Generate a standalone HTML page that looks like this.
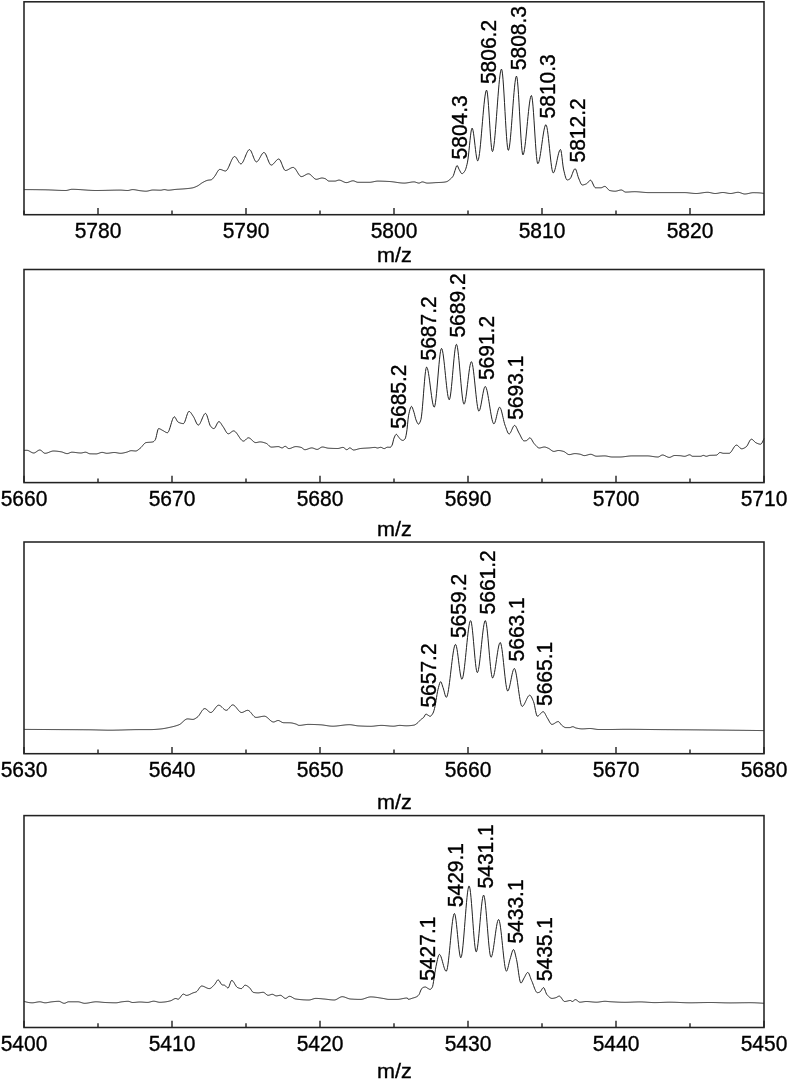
<!DOCTYPE html><html><head><meta charset="utf-8"><style>html,body{margin:0;padding:0;background:#fff;}svg{display:block;}text{font-family:"Liberation Sans",Arial,sans-serif;font-size:21px;fill:#000;stroke:#000;stroke-width:0.35px;}</style></head><body>
<svg width="788" height="1080" viewBox="0 0 788 1080">
<path d="M24.0 189.60 L24.5 189.60 L25.0 189.60 L25.5 189.60 L26.0 189.60 L26.5 189.60 L27.0 189.61 L27.5 189.61 L28.0 189.61 L28.5 189.61 L29.0 189.62 L29.5 189.62 L30.0 189.62 L30.5 189.62 L31.0 189.63 L31.5 189.63 L32.0 189.64 L32.5 189.64 L33.0 189.65 L33.5 189.65 L34.0 189.66 L34.5 189.66 L35.0 189.67 L35.5 189.67 L36.0 189.68 L36.5 189.68 L37.0 189.69 L37.5 189.70 L38.0 189.70 L38.5 189.71 L39.0 189.71 L39.5 189.72 L40.0 189.73 L40.5 189.74 L41.0 189.74 L41.5 189.75 L42.0 189.76 L42.5 189.76 L43.0 189.77 L43.5 189.78 L44.0 189.79 L44.5 189.79 L45.0 189.80 L45.5 189.81 L46.0 189.82 L46.5 189.83 L47.0 189.84 L47.5 189.86 L48.0 189.87 L48.5 189.89 L49.0 189.91 L49.5 189.93 L50.0 189.95 L50.5 189.97 L51.0 189.99 L51.5 190.01 L52.0 190.03 L52.5 190.05 L53.0 190.08 L53.5 190.10 L54.0 190.12 L54.5 190.15 L55.0 190.17 L55.5 190.20 L56.0 190.22 L56.5 190.24 L57.0 190.26 L57.5 190.29 L58.0 190.31 L58.5 190.33 L59.0 190.35 L59.5 190.37 L60.0 190.39 L60.5 190.40 L61.0 190.42 L61.5 190.44 L62.0 190.45 L62.5 190.46 L63.0 190.47 L63.5 190.48 L64.0 190.49 L64.5 190.49 L65.0 190.50 L65.5 190.50 L66.0 190.49 L66.5 190.45 L67.0 190.37 L67.5 190.26 L68.0 190.14 L68.5 190.00 L69.0 189.86 L69.5 189.72 L70.0 189.59 L70.5 189.47 L71.0 189.38 L71.5 189.32 L72.0 189.30 L72.5 189.30 L73.0 189.31 L73.5 189.31 L74.0 189.32 L74.5 189.34 L75.0 189.35 L75.5 189.37 L76.0 189.39 L76.5 189.41 L77.0 189.43 L77.5 189.46 L78.0 189.49 L78.5 189.52 L79.0 189.55 L79.5 189.58 L80.0 189.61 L80.5 189.64 L81.0 189.68 L81.5 189.72 L82.0 189.75 L82.5 189.79 L83.0 189.83 L83.5 189.86 L84.0 189.90 L84.5 189.94 L85.0 189.97 L85.5 190.01 L86.0 190.05 L86.5 190.08 L87.0 190.12 L87.5 190.16 L88.0 190.19 L88.5 190.22 L89.0 190.25 L89.5 190.28 L90.0 190.31 L90.5 190.34 L91.0 190.37 L91.5 190.39 L92.0 190.41 L92.5 190.43 L93.0 190.45 L93.5 190.46 L94.0 190.48 L94.5 190.49 L95.0 190.49 L95.5 190.50 L96.0 190.50 L96.5 190.50 L97.0 190.50 L97.5 190.50 L98.0 190.49 L98.5 190.49 L99.0 190.48 L99.5 190.48 L100.0 190.47 L100.5 190.46 L101.0 190.46 L101.5 190.45 L102.0 190.44 L102.5 190.43 L103.0 190.42 L103.5 190.41 L104.0 190.40 L104.5 190.39 L105.0 190.37 L105.5 190.36 L106.0 190.35 L106.5 190.34 L107.0 190.32 L107.5 190.31 L108.0 190.30 L108.5 190.29 L109.0 190.28 L109.5 190.26 L110.0 190.25 L110.5 190.24 L111.0 190.23 L111.5 190.21 L112.0 190.20 L112.5 190.19 L113.0 190.18 L113.5 190.17 L114.0 190.16 L114.5 190.15 L115.0 190.14 L115.5 190.14 L116.0 190.13 L116.5 190.12 L117.0 190.12 L117.5 190.11 L118.0 190.11 L118.5 190.10 L119.0 190.10 L119.5 190.10 L120.0 190.10 L120.5 190.10 L121.0 190.12 L121.5 190.14 L122.0 190.17 L122.5 190.20 L123.0 190.24 L123.5 190.28 L124.0 190.32 L124.5 190.35 L125.0 190.39 L125.5 190.43 L126.0 190.45 L126.5 190.48 L127.0 190.49 L127.5 190.50 L128.0 190.48 L128.5 190.43 L129.0 190.33 L129.5 190.22 L130.0 190.09 L130.5 189.96 L131.0 189.83 L131.5 189.73 L132.0 189.65 L132.5 189.60 L133.0 189.60 L133.5 189.63 L134.0 189.67 L134.5 189.72 L135.0 189.79 L135.5 189.87 L136.0 189.95 L136.5 190.05 L137.0 190.14 L137.5 190.24 L138.0 190.34 L138.5 190.43 L139.0 190.52 L139.5 190.60 L140.0 190.67 L140.5 190.72 L141.0 190.78 L141.5 190.84 L142.0 190.90 L142.5 190.96 L143.0 191.01 L143.5 191.06 L144.0 191.11 L144.5 191.15 L145.0 191.17 L145.5 191.19 L146.0 191.20 L146.5 191.18 L147.0 191.13 L147.5 191.06 L148.0 190.96 L148.5 190.85 L149.0 190.73 L149.5 190.60 L150.0 190.47 L150.5 190.35 L151.0 190.24 L151.5 190.14 L152.0 190.07 L152.5 190.02 L153.0 190.00 L153.5 190.00 L154.0 190.01 L154.5 190.02 L155.0 190.03 L155.5 190.05 L156.0 190.07 L156.5 190.09 L157.0 190.11 L157.5 190.13 L158.0 190.15 L158.5 190.16 L159.0 190.18 L159.5 190.19 L160.0 190.20 L160.5 190.20 L161.0 190.18 L161.5 190.11 L162.0 190.02 L162.5 189.90 L163.0 189.78 L163.5 189.69 L164.0 189.62 L164.5 189.60 L165.0 189.64 L165.5 189.72 L166.0 189.83 L166.5 189.95 L167.0 190.06 L167.5 190.15 L168.0 190.20 L168.5 190.20 L169.0 190.18 L169.5 190.15 L170.0 190.11 L170.5 190.06 L171.0 190.01 L171.5 189.94 L172.0 189.88 L172.5 189.81 L173.0 189.74 L173.5 189.67 L174.0 189.60 L174.5 189.53 L175.0 189.48 L175.5 189.43 L176.0 189.38 L176.5 189.35 L177.0 189.31 L177.5 189.28 L178.0 189.25 L178.5 189.22 L179.0 189.19 L179.5 189.16 L180.0 189.13 L180.5 189.10 L181.0 189.07 L181.5 189.04 L182.0 189.01 L182.5 188.98 L183.0 188.94 L183.5 188.90 L184.0 188.86 L184.5 188.82 L185.0 188.78 L185.5 188.73 L186.0 188.69 L186.5 188.65 L187.0 188.60 L187.5 188.55 L188.0 188.50 L188.5 188.45 L189.0 188.39 L189.5 188.33 L190.0 188.26 L190.5 188.19 L191.0 188.12 L191.5 188.04 L192.0 187.95 L192.5 187.86 L193.0 187.75 L193.5 187.61 L194.0 187.45 L194.5 187.27 L195.0 187.08 L195.5 186.87 L196.0 186.65 L196.5 186.42 L197.0 186.19 L197.5 185.95 L198.0 185.68 L198.5 185.37 L199.0 185.03 L199.5 184.67 L200.0 184.30 L200.5 183.93 L201.0 183.56 L201.5 183.21 L202.0 182.89 L202.5 182.60 L203.0 182.33 L203.5 182.06 L204.0 181.79 L204.5 181.53 L205.0 181.28 L205.5 181.04 L206.0 180.82 L206.5 180.63 L207.0 180.46 L207.5 180.32 L208.0 180.22 L208.5 180.14 L209.0 180.08 L209.5 180.02 L210.0 179.97 L210.5 179.90 L211.0 179.80 L211.5 179.67 L212.0 179.39 L212.5 178.94 L213.0 178.38 L213.5 177.75 L214.0 177.11 L214.5 176.50 L215.0 175.85 L215.5 175.08 L216.0 174.23 L216.5 173.34 L217.0 172.45 L217.5 171.60 L218.0 170.84 L218.5 170.19 L219.0 169.72 L219.5 169.45 L220.0 169.41 L220.5 169.47 L221.0 169.58 L221.5 169.74 L222.0 169.93 L222.5 170.14 L223.0 170.35 L223.5 170.55 L224.0 170.73 L224.5 170.87 L225.0 170.97 L225.5 171.00 L226.0 170.87 L226.5 170.51 L227.0 169.95 L227.5 169.21 L228.0 168.32 L228.5 167.31 L229.0 166.22 L229.5 165.06 L230.0 163.87 L230.5 162.68 L231.0 161.51 L231.5 160.40 L232.0 159.37 L232.5 158.46 L233.0 157.69 L233.5 157.08 L234.0 156.68 L234.5 156.51 L235.0 156.59 L235.5 156.91 L236.0 157.43 L236.5 158.11 L237.0 158.90 L237.5 159.76 L238.0 160.64 L238.5 161.50 L239.0 162.29 L239.5 162.97 L240.0 163.49 L240.5 163.81 L241.0 163.89 L241.5 163.70 L242.0 163.26 L242.5 162.60 L243.0 161.76 L243.5 160.77 L244.0 159.67 L244.5 158.48 L245.0 157.25 L245.5 156.00 L246.0 154.78 L246.5 153.61 L247.0 152.52 L247.5 151.56 L248.0 150.75 L248.5 150.14 L249.0 149.74 L249.5 149.60 L250.0 149.78 L250.5 150.30 L251.0 151.09 L251.5 152.10 L252.0 153.27 L252.5 154.55 L253.0 155.88 L253.5 157.21 L254.0 158.47 L254.5 159.62 L255.0 160.59 L255.5 161.33 L256.0 161.78 L256.5 161.90 L257.0 161.73 L257.5 161.37 L258.0 160.83 L258.5 160.14 L259.0 159.35 L259.5 158.48 L260.0 157.57 L260.5 156.64 L261.0 155.74 L261.5 154.88 L262.0 154.11 L262.5 153.45 L263.0 152.95 L263.5 152.62 L264.0 152.50 L264.5 152.67 L265.0 153.16 L265.5 153.91 L266.0 154.88 L266.5 156.00 L267.0 157.24 L267.5 158.54 L268.0 159.85 L268.5 161.11 L269.0 162.29 L269.5 163.32 L270.0 164.17 L270.5 164.77 L271.0 165.07 L271.5 165.07 L272.0 164.91 L272.5 164.63 L273.0 164.24 L273.5 163.76 L274.0 163.23 L274.5 162.65 L275.0 162.05 L275.5 161.45 L276.0 160.87 L276.5 160.34 L277.0 159.86 L277.5 159.47 L278.0 159.19 L278.5 159.03 L279.0 159.03 L279.5 159.36 L280.0 160.00 L280.5 160.90 L281.0 161.98 L281.5 163.20 L282.0 164.49 L282.5 165.79 L283.0 167.04 L283.5 168.19 L284.0 169.17 L284.5 169.92 L285.0 170.38 L285.5 170.50 L286.0 170.45 L286.5 170.33 L287.0 170.16 L287.5 169.95 L288.0 169.70 L288.5 169.42 L289.0 169.13 L289.5 168.83 L290.0 168.54 L290.5 168.26 L291.0 168.00 L291.5 167.78 L292.0 167.60 L292.5 167.47 L293.0 167.41 L293.5 167.44 L294.0 167.65 L294.5 168.02 L295.0 168.54 L295.5 169.17 L296.0 169.89 L296.5 170.67 L297.0 171.50 L297.5 172.34 L298.0 173.17 L298.5 173.96 L299.0 174.70 L299.5 175.35 L300.0 175.89 L300.5 176.29 L301.0 176.54 L301.5 176.60 L302.0 176.54 L302.5 176.42 L303.0 176.24 L303.5 176.01 L304.0 175.75 L304.5 175.46 L305.0 175.17 L305.5 174.88 L306.0 174.60 L306.5 174.34 L307.0 174.12 L307.5 173.95 L308.0 173.84 L308.5 173.80 L309.0 173.86 L309.5 174.05 L310.0 174.33 L310.5 174.70 L311.0 175.13 L311.5 175.61 L312.0 176.13 L312.5 176.66 L313.0 177.18 L313.5 177.68 L314.0 178.15 L314.5 178.56 L315.0 178.89 L315.5 179.14 L316.0 179.28 L316.5 179.30 L317.0 179.25 L317.5 179.15 L318.0 179.02 L318.5 178.87 L319.0 178.70 L319.5 178.53 L320.0 178.37 L320.5 178.22 L321.0 178.11 L321.5 178.03 L322.0 178.00 L322.5 178.02 L323.0 178.09 L323.5 178.19 L324.0 178.31 L324.5 178.45 L325.0 178.60 L325.5 178.82 L326.0 179.16 L326.5 179.56 L327.0 180.00 L327.5 180.41 L328.0 180.76 L328.5 181.01 L329.0 181.10 L329.5 181.10 L330.0 181.10 L330.5 181.10 L331.0 181.10 L331.5 181.10 L332.0 181.10 L332.5 181.10 L333.0 181.10 L333.5 181.10 L334.0 181.10 L334.5 181.10 L335.0 181.10 L335.5 181.04 L336.0 180.92 L336.5 180.76 L337.0 180.58 L337.5 180.40 L338.0 180.25 L338.5 180.14 L339.0 180.10 L339.5 180.13 L340.0 180.22 L340.5 180.37 L341.0 180.55 L341.5 180.76 L342.0 181.00 L342.5 181.25 L343.0 181.50 L343.5 181.75 L344.0 181.98 L344.5 182.19 L345.0 182.37 L345.5 182.50 L346.0 182.58 L346.5 182.60 L347.0 182.56 L347.5 182.47 L348.0 182.33 L348.5 182.17 L349.0 181.98 L349.5 181.78 L350.0 181.58 L350.5 181.38 L351.0 181.20 L351.5 181.04 L352.0 180.91 L352.5 180.83 L353.0 180.80 L353.5 180.84 L354.0 180.96 L354.5 181.12 L355.0 181.33 L355.5 181.55 L356.0 181.77 L356.5 181.98 L357.0 182.14 L357.5 182.26 L358.0 182.30 L358.5 182.30 L359.0 182.30 L359.5 182.30 L360.0 182.30 L360.5 182.30 L361.0 182.30 L361.5 182.30 L362.0 182.30 L362.5 182.30 L363.0 182.30 L363.5 182.30 L364.0 182.30 L364.5 182.30 L365.0 182.30 L365.5 182.30 L366.0 182.30 L366.5 182.30 L367.0 182.30 L367.5 182.30 L368.0 182.30 L368.5 182.30 L369.0 182.30 L369.5 182.30 L370.0 182.29 L370.5 182.25 L371.0 182.20 L371.5 182.12 L372.0 182.04 L372.5 181.94 L373.0 181.84 L373.5 181.73 L374.0 181.62 L374.5 181.52 L375.0 181.42 L375.5 181.33 L376.0 181.24 L376.5 181.18 L377.0 181.13 L377.5 181.10 L378.0 181.10 L378.5 181.10 L379.0 181.11 L379.5 181.11 L380.0 181.12 L380.5 181.13 L381.0 181.14 L381.5 181.16 L382.0 181.17 L382.5 181.19 L383.0 181.21 L383.5 181.22 L384.0 181.24 L384.5 181.27 L385.0 181.29 L385.5 181.31 L386.0 181.33 L386.5 181.36 L387.0 181.38 L387.5 181.41 L388.0 181.43 L388.5 181.46 L389.0 181.48 L389.5 181.51 L390.0 181.54 L390.5 181.58 L391.0 181.63 L391.5 181.68 L392.0 181.73 L392.5 181.79 L393.0 181.85 L393.5 181.92 L394.0 181.99 L394.5 182.06 L395.0 182.14 L395.5 182.21 L396.0 182.28 L396.5 182.36 L397.0 182.43 L397.5 182.51 L398.0 182.58 L398.5 182.65 L399.0 182.71 L399.5 182.78 L400.0 182.83 L400.5 182.89 L401.0 182.94 L401.5 182.98 L402.0 183.02 L402.5 183.05 L403.0 183.08 L403.5 183.09 L404.0 183.10 L404.5 183.10 L405.0 183.08 L405.5 183.04 L406.0 182.99 L406.5 182.93 L407.0 182.86 L407.5 182.78 L408.0 182.70 L408.5 182.61 L409.0 182.52 L409.5 182.43 L410.0 182.34 L410.5 182.25 L411.0 182.17 L411.5 182.09 L412.0 182.03 L412.5 181.98 L413.0 181.93 L413.5 181.91 L414.0 181.90 L414.5 181.93 L415.0 182.02 L415.5 182.16 L416.0 182.32 L416.5 182.50 L417.0 182.68 L417.5 182.84 L418.0 182.98 L418.5 183.07 L419.0 183.10 L419.5 183.03 L420.0 182.84 L420.5 182.58 L421.0 182.31 L421.5 182.08 L422.0 181.93 L422.5 181.91 L423.0 181.96 L423.5 182.07 L424.0 182.22 L424.5 182.39 L425.0 182.57 L425.5 182.75 L426.0 182.90 L426.5 183.02 L427.0 183.09 L427.5 183.10 L428.0 183.09 L428.5 183.08 L429.0 183.07 L429.5 183.05 L430.0 183.02 L430.5 182.99 L431.0 182.96 L431.5 182.93 L432.0 182.89 L432.5 182.86 L433.0 182.82 L433.5 182.78 L434.0 182.75 L434.5 182.71 L435.0 182.68 L435.5 182.64 L436.0 182.62 L436.5 182.59 L437.0 182.57 L437.5 182.55 L438.0 182.53 L438.5 182.51 L439.0 182.49 L439.5 182.47 L440.0 182.45 L440.5 182.43 L441.0 182.40 L441.5 182.38 L442.0 182.35 L442.5 182.31 L443.0 182.28 L443.5 182.23 L444.0 182.17 L444.5 182.10 L445.0 182.02 L445.5 181.93 L446.0 181.82 L446.5 181.70 L447.0 181.53 L447.5 181.28 L448.0 180.97 L448.5 180.61 L449.0 180.21 L449.5 179.79 L450.0 179.36 L450.5 178.93 L451.0 178.50 L451.5 178.04 L452.0 177.53 L452.5 176.93 L453.0 176.22 L453.5 175.27 L454.0 173.80 L454.5 172.09 L455.0 170.48 L455.5 168.99 L456.0 167.36 L456.5 166.04 L457.0 165.50 L457.5 165.89 L458.0 166.86 L458.5 168.08 L459.0 169.23 L459.5 170.13 L460.0 171.09 L460.5 172.05 L461.0 172.88 L461.5 173.48 L462.0 173.70 L462.5 173.59 L463.0 173.27 L463.5 172.80 L464.0 172.19 L464.5 171.50 L465.0 170.74 L465.5 169.65 L466.0 168.16 L466.5 166.36 L467.0 164.33 L467.5 162.13 L468.0 159.05 L468.5 154.97 L469.0 150.26 L469.5 145.26 L470.0 140.32 L470.5 135.79 L471.0 132.02 L471.5 129.35 L472.0 128.14 L472.5 128.58 L473.0 130.37 L473.5 133.22 L474.0 136.87 L474.5 141.01 L475.0 145.38 L475.5 149.69 L476.0 153.67 L476.5 157.03 L477.0 159.49 L477.5 160.78 L478.0 160.66 L478.5 159.29 L479.0 156.81 L479.5 153.38 L480.0 149.16 L480.5 144.29 L481.0 138.92 L481.5 133.20 L482.0 127.29 L482.5 121.33 L483.0 115.48 L483.5 109.89 L484.0 104.70 L484.5 100.07 L485.0 96.14 L485.5 93.08 L486.0 91.02 L486.5 90.13 L487.0 90.94 L487.5 94.08 L488.0 99.12 L488.5 105.58 L489.0 112.98 L489.5 120.85 L490.0 128.72 L490.5 136.12 L491.0 142.58 L491.5 147.62 L492.0 150.76 L492.5 151.57 L493.0 150.57 L493.5 148.28 L494.0 144.85 L494.5 140.45 L495.0 135.24 L495.5 129.40 L496.0 123.08 L496.5 116.45 L497.0 109.67 L497.5 102.91 L498.0 96.32 L498.5 90.09 L499.0 84.36 L499.5 79.30 L500.0 75.09 L500.5 71.87 L501.0 69.82 L501.5 69.10 L502.0 70.35 L502.5 73.86 L503.0 79.22 L503.5 86.06 L504.0 93.99 L504.5 102.61 L505.0 111.54 L505.5 120.40 L506.0 128.79 L506.5 136.33 L507.0 142.62 L507.5 147.29 L508.0 149.94 L508.5 150.27 L509.0 148.87 L509.5 146.09 L510.0 142.14 L510.5 137.23 L511.0 131.54 L511.5 125.29 L512.0 118.67 L512.5 111.89 L513.0 105.15 L513.5 98.66 L514.0 92.61 L514.5 87.20 L515.0 82.65 L515.5 79.15 L516.0 76.90 L516.5 76.10 L517.0 77.47 L517.5 81.27 L518.0 87.06 L518.5 94.38 L519.0 102.78 L519.5 111.81 L520.0 121.02 L520.5 129.97 L521.0 138.19 L521.5 145.24 L522.0 150.66 L522.5 154.02 L523.0 154.88 L523.5 154.05 L524.0 152.17 L524.5 149.38 L525.0 145.81 L525.5 141.63 L526.0 136.96 L526.5 131.96 L527.0 126.77 L527.5 121.54 L528.0 116.41 L528.5 111.52 L529.0 107.03 L529.5 103.08 L530.0 99.80 L530.5 97.36 L531.0 95.88 L531.5 95.55 L532.0 97.19 L532.5 100.86 L533.0 106.17 L533.5 112.73 L534.0 120.16 L534.5 128.05 L535.0 136.02 L535.5 143.68 L536.0 150.63 L536.5 156.49 L537.0 160.87 L537.5 163.36 L538.0 163.73 L538.5 162.97 L539.0 161.48 L539.5 159.36 L540.0 156.71 L540.5 153.66 L541.0 150.31 L541.5 146.78 L542.0 143.16 L542.5 139.58 L543.0 136.15 L543.5 132.96 L544.0 130.14 L544.5 127.80 L545.0 126.04 L545.5 124.98 L546.0 124.73 L546.5 125.62 L547.0 127.65 L547.5 130.63 L548.0 134.37 L548.5 138.69 L549.0 143.39 L549.5 148.30 L550.0 153.23 L550.5 158.00 L551.0 162.41 L551.5 166.28 L552.0 169.42 L552.5 171.66 L553.0 172.79 L553.5 172.78 L554.0 172.12 L554.5 170.94 L555.0 169.33 L555.5 167.40 L556.0 165.21 L556.5 162.88 L557.0 160.48 L557.5 158.11 L558.0 155.85 L558.5 153.81 L559.0 152.06 L559.5 150.70 L560.0 149.81 L560.5 149.50 L561.0 150.61 L561.5 153.50 L562.0 157.47 L562.5 161.84 L563.0 165.93 L563.5 169.05 L564.0 171.17 L564.5 173.27 L565.0 175.28 L565.5 177.06 L566.0 178.52 L566.5 179.53 L567.0 179.99 L567.5 179.97 L568.0 179.86 L568.5 179.67 L569.0 179.44 L569.5 179.17 L570.0 178.85 L570.5 178.20 L571.0 177.24 L571.5 176.05 L572.0 174.71 L572.5 173.33 L573.0 171.98 L573.5 170.75 L574.0 169.74 L574.5 169.03 L575.0 168.71 L575.5 168.95 L576.0 169.84 L576.5 171.22 L577.0 172.90 L577.5 174.70 L578.0 176.44 L578.5 177.92 L579.0 179.09 L579.5 180.33 L580.0 181.59 L580.5 182.78 L581.0 183.80 L581.5 184.56 L582.0 184.96 L582.5 184.99 L583.0 184.94 L583.5 184.85 L584.0 184.72 L584.5 184.56 L585.0 184.38 L585.5 184.18 L586.0 183.97 L586.5 183.74 L587.0 183.45 L587.5 182.99 L588.0 182.41 L588.5 181.79 L589.0 181.20 L589.5 180.69 L590.0 180.33 L590.5 180.20 L591.0 180.41 L591.5 180.99 L592.0 181.84 L592.5 182.88 L593.0 184.00 L593.5 185.12 L594.0 186.16 L594.5 187.01 L595.0 187.59 L595.5 187.80 L596.0 187.80 L596.5 187.80 L597.0 187.80 L597.5 187.80 L598.0 187.80 L598.5 187.80 L599.0 187.80 L599.5 187.80 L600.0 187.80 L600.5 187.80 L601.0 187.80 L601.5 187.71 L602.0 187.53 L602.5 187.29 L603.0 187.02 L603.5 186.76 L604.0 186.55 L604.5 186.42 L605.0 186.42 L605.5 186.61 L606.0 186.97 L606.5 187.45 L607.0 188.01 L607.5 188.61 L608.0 189.20 L608.5 189.73 L609.0 190.16 L609.5 190.44 L610.0 190.57 L610.5 190.67 L611.0 190.77 L611.5 190.86 L612.0 190.94 L612.5 191.02 L613.0 191.08 L613.5 191.13 L614.0 191.17 L614.5 191.19 L615.0 191.20 L615.5 191.19 L616.0 191.13 L616.5 191.04 L617.0 190.93 L617.5 190.80 L618.0 190.66 L618.5 190.51 L619.0 190.37 L619.5 190.24 L620.0 190.14 L620.5 190.05 L621.0 190.01 L621.5 190.01 L622.0 190.14 L622.5 190.38 L623.0 190.70 L623.5 191.05 L624.0 191.40 L624.5 191.72 L625.0 191.96 L625.5 192.09 L626.0 192.10 L626.5 192.09 L627.0 192.08 L627.5 192.06 L628.0 192.03 L628.5 192.01 L629.0 191.98 L629.5 191.94 L630.0 191.91 L630.5 191.88 L631.0 191.84 L631.5 191.81 L632.0 191.78 L632.5 191.76 L633.0 191.73 L633.5 191.72 L634.0 191.71 L634.5 191.70 L635.0 191.70 L635.5 191.71 L636.0 191.72 L636.5 191.74 L637.0 191.77 L637.5 191.80 L638.0 191.83 L638.5 191.87 L639.0 191.91 L639.5 191.95 L640.0 191.99 L640.5 192.04 L641.0 192.08 L641.5 192.13 L642.0 192.18 L642.5 192.23 L643.0 192.27 L643.5 192.32 L644.0 192.36 L644.5 192.40 L645.0 192.44 L645.5 192.48 L646.0 192.51 L646.5 192.54 L647.0 192.56 L647.5 192.58 L648.0 192.59 L648.5 192.60 L649.0 192.60 L649.5 192.60 L650.0 192.60 L650.5 192.60 L651.0 192.60 L651.5 192.60 L652.0 192.60 L652.5 192.60 L653.0 192.60 L653.5 192.60 L654.0 192.60 L654.5 192.60 L655.0 192.60 L655.5 192.60 L656.0 192.60 L656.5 192.60 L657.0 192.60 L657.5 192.60 L658.0 192.60 L658.5 192.60 L659.0 192.60 L659.5 192.60 L660.0 192.60 L660.5 192.60 L661.0 192.60 L661.5 192.60 L662.0 192.60 L662.5 192.60 L663.0 192.60 L663.5 192.60 L664.0 192.60 L664.5 192.60 L665.0 192.60 L665.5 192.60 L666.0 192.60 L666.5 192.60 L667.0 192.60 L667.5 192.60 L668.0 192.60 L668.5 192.60 L669.0 192.60 L669.5 192.60 L670.0 192.60 L670.5 192.60 L671.0 192.60 L671.5 192.60 L672.0 192.60 L672.5 192.60 L673.0 192.60 L673.5 192.60 L674.0 192.60 L674.5 192.60 L675.0 192.60 L675.5 192.60 L676.0 192.60 L676.5 192.60 L677.0 192.60 L677.5 192.60 L678.0 192.60 L678.5 192.60 L679.0 192.60 L679.5 192.60 L680.0 192.60 L680.5 192.60 L681.0 192.60 L681.5 192.60 L682.0 192.60 L682.5 192.60 L683.0 192.60 L683.5 192.60 L684.0 192.60 L684.5 192.60 L685.0 192.61 L685.5 192.63 L686.0 192.65 L686.5 192.68 L687.0 192.72 L687.5 192.76 L688.0 192.81 L688.5 192.86 L689.0 192.91 L689.5 192.97 L690.0 193.02 L690.5 193.08 L691.0 193.13 L691.5 193.19 L692.0 193.24 L692.5 193.29 L693.0 193.34 L693.5 193.38 L694.0 193.42 L694.5 193.45 L695.0 193.47 L695.5 193.49 L696.0 193.50 L696.5 193.50 L697.0 193.48 L697.5 193.46 L698.0 193.42 L698.5 193.37 L699.0 193.32 L699.5 193.26 L700.0 193.19 L700.5 193.12 L701.0 193.04 L701.5 192.96 L702.0 192.88 L702.5 192.81 L703.0 192.73 L703.5 192.65 L704.0 192.58 L704.5 192.52 L705.0 192.46 L705.5 192.41 L706.0 192.36 L706.5 192.33 L707.0 192.31 L707.5 192.30 L708.0 192.31 L708.5 192.35 L709.0 192.41 L709.5 192.49 L710.0 192.58 L710.5 192.69 L711.0 192.81 L711.5 192.92 L712.0 193.04 L712.5 193.15 L713.0 193.26 L713.5 193.35 L714.0 193.42 L714.5 193.47 L715.0 193.50 L715.5 193.50 L716.0 193.47 L716.5 193.42 L717.0 193.36 L717.5 193.29 L718.0 193.20 L718.5 193.11 L719.0 193.01 L719.5 192.91 L720.0 192.82 L720.5 192.73 L721.0 192.65 L721.5 192.59 L722.0 192.54 L722.5 192.51 L723.0 192.50 L723.5 192.52 L724.0 192.56 L724.5 192.61 L725.0 192.69 L725.5 192.77 L726.0 192.86 L726.5 192.96 L727.0 193.06 L727.5 193.16 L728.0 193.25 L728.5 193.33 L729.0 193.40 L729.5 193.45 L730.0 193.49 L730.5 193.50 L731.0 193.49 L731.5 193.44 L732.0 193.38 L732.5 193.29 L733.0 193.20 L733.5 193.09 L734.0 192.97 L734.5 192.85 L735.0 192.74 L735.5 192.63 L736.0 192.52 L736.5 192.44 L737.0 192.37 L737.5 192.32 L738.0 192.30 L738.5 192.32 L739.0 192.38 L739.5 192.49 L740.0 192.63 L740.5 192.80 L741.0 192.98 L741.5 193.17 L742.0 193.36 L742.5 193.54 L743.0 193.70 L743.5 193.83 L744.0 193.93 L744.5 193.99 L745.0 194.00 L745.5 193.98 L746.0 193.93 L746.5 193.86 L747.0 193.78 L747.5 193.69 L748.0 193.59 L748.5 193.48 L749.0 193.36 L749.5 193.25 L750.0 193.14 L750.5 193.03 L751.0 192.93 L751.5 192.85 L752.0 192.78 L752.5 192.73 L753.0 192.70 L753.5 192.70 L754.0 192.70 L754.5 192.70 L755.0 192.71 L755.5 192.72 L756.0 192.72 L756.5 192.74 L757.0 192.75 L757.5 192.77 L758.0 192.79 L758.5 192.82 L759.0 192.85 L759.5 192.89 L760.0 192.93 L760.5 192.98 L761.0 193.03 L761.5 193.09 L762.0 193.16 L762.5 193.23 L763.0 193.31 L763.5 193.40 L764.0 193.50" fill="none" stroke="#222" stroke-width="1.0" stroke-linejoin="round"/>
<path d="M24.0 214.7 V210.5 M98.0 214.7 V207.9 M172.0 214.7 V210.5 M246.0 214.7 V207.9 M320.0 214.7 V210.5 M394.0 214.7 V207.9 M468.0 214.7 V210.5 M542.0 214.7 V207.9 M616.0 214.7 V210.5 M690.0 214.7 V207.9 M764.0 214.7 V210.5" stroke="#222" stroke-width="1.4" fill="none"/>
<rect x="24.0" y="1.8" width="740.0" height="212.9" fill="none" stroke="#222" stroke-width="1.55"/>
<text transform="translate(98.0 238.2) scale(1 1.050)" text-anchor="middle">5780</text>
<text transform="translate(246.0 238.2) scale(1 1.050)" text-anchor="middle">5790</text>
<text transform="translate(394.0 238.2) scale(1 1.050)" text-anchor="middle">5800</text>
<text transform="translate(542.0 238.2) scale(1 1.050)" text-anchor="middle">5810</text>
<text transform="translate(690.0 238.2) scale(1 1.050)" text-anchor="middle">5820</text>
<text transform="translate(394.4 262.0) scale(1.03 1)" text-anchor="middle">m/z</text>
<text transform="translate(466.9 159.4) rotate(-90) scale(1 1.050)">5804.3</text>
<text transform="translate(496.2 84.1) rotate(-90) scale(1 1.050)">5806.2</text>
<text transform="translate(525.7 70.2) rotate(-90) scale(1 1.050)">5808.3</text>
<text transform="translate(554.9 118.4) rotate(-90) scale(1 1.050)">5810.3</text>
<text transform="translate(584.8 162.5) rotate(-90) scale(1 1.050)">5812.2</text>
<path d="M24.0 450.50 L24.5 450.41 L25.0 450.36 L25.5 450.32 L26.0 450.31 L26.5 450.30 L27.0 450.30 L27.5 450.36 L28.0 450.49 L28.5 450.68 L29.0 450.91 L29.5 451.18 L30.0 451.47 L30.5 451.77 L31.0 452.06 L31.5 452.34 L32.0 452.58 L32.5 452.78 L33.0 452.92 L33.5 452.99 L34.0 452.98 L34.5 452.86 L35.0 452.65 L35.5 452.37 L36.0 452.04 L36.5 451.68 L37.0 451.32 L37.5 450.96 L38.0 450.63 L38.5 450.35 L39.0 450.14 L39.5 450.02 L40.0 450.01 L40.5 450.16 L41.0 450.43 L41.5 450.80 L42.0 451.23 L42.5 451.70 L43.0 452.16 L43.5 452.58 L44.0 452.93 L44.5 453.18 L45.0 453.30 L45.5 453.28 L46.0 453.23 L46.5 453.13 L47.0 453.00 L47.5 452.84 L48.0 452.67 L48.5 452.47 L49.0 452.27 L49.5 452.07 L50.0 451.87 L50.5 451.67 L51.0 451.49 L51.5 451.33 L52.0 451.19 L52.5 451.09 L53.0 451.02 L53.5 451.00 L54.0 451.01 L54.5 451.02 L55.0 451.04 L55.5 451.08 L56.0 451.12 L56.5 451.16 L57.0 451.22 L57.5 451.27 L58.0 451.34 L58.5 451.41 L59.0 451.48 L59.5 451.55 L60.0 451.63 L60.5 451.71 L61.0 451.78 L61.5 451.88 L62.0 452.01 L62.5 452.17 L63.0 452.36 L63.5 452.56 L64.0 452.76 L64.5 452.96 L65.0 453.15 L65.5 453.31 L66.0 453.45 L66.5 453.55 L67.0 453.60 L67.5 453.58 L68.0 453.49 L68.5 453.33 L69.0 453.12 L69.5 452.90 L70.0 452.68 L70.5 452.47 L71.0 452.31 L71.5 452.22 L72.0 452.20 L72.5 452.21 L73.0 452.24 L73.5 452.27 L74.0 452.32 L74.5 452.37 L75.0 452.43 L75.5 452.49 L76.0 452.55 L76.5 452.62 L77.0 452.69 L77.5 452.75 L78.0 452.81 L78.5 452.86 L79.0 452.91 L79.5 452.95 L80.0 452.98 L80.5 453.00 L81.0 453.00 L81.5 452.96 L82.0 452.88 L82.5 452.78 L83.0 452.65 L83.5 452.52 L84.0 452.40 L84.5 452.30 L85.0 452.23 L85.5 452.20 L86.0 452.25 L86.5 452.40 L87.0 452.60 L87.5 452.85 L88.0 453.11 L88.5 453.36 L89.0 453.58 L89.5 453.73 L90.0 453.80 L90.5 453.82 L91.0 453.83 L91.5 453.84 L92.0 453.85 L92.5 453.87 L93.0 453.87 L93.5 453.88 L94.0 453.89 L94.5 453.89 L95.0 453.90 L95.5 453.90 L96.0 453.90 L96.5 453.88 L97.0 453.81 L97.5 453.70 L98.0 453.55 L98.5 453.39 L99.0 453.21 L99.5 453.02 L100.0 452.84 L100.5 452.68 L101.0 452.55 L101.5 452.45 L102.0 452.40 L102.5 452.41 L103.0 452.47 L103.5 452.58 L104.0 452.71 L104.5 452.85 L105.0 452.99 L105.5 453.12 L106.0 453.23 L106.5 453.29 L107.0 453.30 L107.5 453.28 L108.0 453.25 L108.5 453.20 L109.0 453.14 L109.5 453.07 L110.0 452.99 L110.5 452.92 L111.0 452.84 L111.5 452.76 L112.0 452.69 L112.5 452.62 L113.0 452.57 L113.5 452.53 L114.0 452.51 L114.5 452.50 L115.0 452.52 L115.5 452.57 L116.0 452.64 L116.5 452.72 L117.0 452.81 L117.5 452.91 L118.0 453.01 L118.5 453.10 L119.0 453.18 L119.5 453.24 L120.0 453.28 L120.5 453.30 L121.0 453.29 L121.5 453.25 L122.0 453.20 L122.5 453.13 L123.0 453.04 L123.5 452.94 L124.0 452.83 L124.5 452.71 L125.0 452.59 L125.5 452.47 L126.0 452.34 L126.5 452.22 L127.0 452.09 L127.5 451.91 L128.0 451.71 L128.5 451.49 L129.0 451.27 L129.5 451.07 L130.0 450.90 L130.5 450.77 L131.0 450.71 L131.5 450.70 L132.0 450.73 L132.5 450.76 L133.0 450.81 L133.5 450.85 L134.0 450.90 L134.5 450.95 L135.0 450.98 L135.5 451.00 L136.0 450.98 L136.5 450.85 L137.0 450.63 L137.5 450.33 L138.0 449.98 L138.5 449.59 L139.0 449.19 L139.5 448.78 L140.0 448.40 L140.5 447.99 L141.0 447.50 L141.5 446.95 L142.0 446.36 L142.5 445.75 L143.0 445.15 L143.5 444.56 L144.0 444.01 L144.5 443.53 L145.0 443.12 L145.5 442.81 L146.0 442.62 L146.5 442.53 L147.0 442.46 L147.5 442.41 L148.0 442.36 L148.5 442.33 L149.0 442.30 L149.5 442.27 L150.0 442.24 L150.5 442.21 L151.0 442.17 L151.5 442.12 L152.0 442.06 L152.5 441.98 L153.0 441.88 L153.5 441.65 L154.0 441.27 L154.5 440.76 L155.0 440.16 L155.5 439.32 L156.0 437.70 L156.5 435.55 L157.0 433.22 L157.5 431.06 L158.0 429.42 L158.5 428.62 L159.0 428.63 L159.5 428.75 L160.0 428.95 L160.5 429.20 L161.0 429.48 L161.5 429.78 L162.0 430.08 L162.5 430.35 L163.0 430.60 L163.5 430.87 L164.0 431.18 L164.5 431.49 L165.0 431.81 L165.5 432.10 L166.0 432.35 L166.5 432.55 L167.0 432.67 L167.5 432.69 L168.0 432.36 L168.5 431.62 L169.0 430.53 L169.5 429.18 L170.0 427.63 L170.5 425.96 L171.0 424.23 L171.5 422.53 L172.0 420.92 L172.5 419.48 L173.0 418.28 L173.5 417.39 L174.0 416.89 L174.5 416.84 L175.0 417.22 L175.5 417.93 L176.0 418.83 L176.5 419.81 L177.0 420.75 L177.5 421.54 L178.0 422.04 L178.5 422.29 L179.0 422.52 L179.5 422.73 L180.0 422.92 L180.5 423.10 L181.0 423.25 L181.5 423.37 L182.0 423.47 L182.5 423.55 L183.0 423.59 L183.5 423.59 L184.0 423.21 L184.5 422.37 L185.0 421.18 L185.5 419.74 L186.0 418.15 L186.5 416.52 L187.0 414.96 L187.5 413.56 L188.0 412.43 L188.5 411.67 L189.0 411.40 L189.5 411.52 L190.0 411.84 L190.5 412.33 L191.0 412.95 L191.5 413.66 L192.0 414.43 L192.5 415.21 L193.0 415.97 L193.5 416.70 L194.0 417.58 L194.5 418.62 L195.0 419.76 L195.5 420.93 L196.0 422.06 L196.5 423.10 L197.0 423.99 L197.5 424.65 L198.0 425.03 L198.5 425.07 L199.0 424.79 L199.5 424.23 L200.0 423.45 L200.5 422.49 L201.0 421.40 L201.5 420.22 L202.0 419.01 L202.5 417.80 L203.0 416.65 L203.5 415.61 L204.0 414.71 L204.5 414.01 L205.0 413.56 L205.5 413.40 L206.0 413.69 L206.5 414.48 L207.0 415.68 L207.5 417.16 L208.0 418.83 L208.5 420.58 L209.0 422.30 L209.5 423.89 L210.0 425.23 L210.5 426.22 L211.0 426.79 L211.5 427.27 L212.0 427.71 L212.5 428.08 L213.0 428.37 L213.5 428.55 L214.0 428.59 L214.5 428.32 L215.0 427.73 L215.5 426.91 L216.0 425.93 L216.5 424.89 L217.0 423.86 L217.5 422.94 L218.0 422.20 L218.5 421.73 L219.0 421.61 L219.5 421.79 L220.0 422.21 L220.5 422.80 L221.0 423.52 L221.5 424.31 L222.0 425.12 L222.5 425.90 L223.0 426.60 L223.5 427.31 L224.0 428.12 L224.5 428.99 L225.0 429.90 L225.5 430.79 L226.0 431.63 L226.5 432.39 L227.0 433.02 L227.5 433.49 L228.0 433.75 L228.5 433.79 L229.0 433.66 L229.5 433.42 L230.0 433.10 L230.5 432.72 L231.0 432.31 L231.5 431.91 L232.0 431.53 L232.5 431.22 L233.0 431.00 L233.5 430.90 L234.0 430.95 L234.5 431.14 L235.0 431.45 L235.5 431.88 L236.0 432.41 L236.5 433.01 L237.0 433.68 L237.5 434.40 L238.0 435.15 L238.5 435.92 L239.0 436.69 L239.5 437.45 L240.0 438.18 L240.5 438.86 L241.0 439.48 L241.5 440.02 L242.0 440.47 L242.5 440.81 L243.0 441.02 L243.5 441.10 L244.0 441.00 L244.5 440.74 L245.0 440.36 L245.5 439.90 L246.0 439.40 L246.5 438.90 L247.0 438.45 L247.5 438.09 L248.0 437.86 L248.5 437.80 L249.0 437.89 L249.5 438.09 L250.0 438.39 L250.5 438.76 L251.0 439.19 L251.5 439.66 L252.0 440.15 L252.5 440.64 L253.0 441.12 L253.5 441.55 L254.0 441.94 L254.5 442.25 L255.0 442.48 L255.5 442.59 L256.0 442.59 L256.5 442.54 L257.0 442.45 L257.5 442.33 L258.0 442.21 L258.5 442.10 L259.0 442.00 L259.5 441.93 L260.0 441.90 L260.5 441.91 L261.0 441.95 L261.5 442.01 L262.0 442.10 L262.5 442.20 L263.0 442.32 L263.5 442.45 L264.0 442.60 L264.5 442.76 L265.0 442.92 L265.5 443.09 L266.0 443.26 L266.5 443.48 L267.0 443.81 L267.5 444.22 L268.0 444.69 L268.5 445.18 L269.0 445.68 L269.5 446.14 L270.0 446.54 L270.5 446.85 L271.0 447.05 L271.5 447.10 L272.0 447.09 L272.5 447.07 L273.0 447.03 L273.5 446.99 L274.0 446.94 L274.5 446.89 L275.0 446.83 L275.5 446.78 L276.0 446.73 L276.5 446.68 L277.0 446.65 L277.5 446.62 L278.0 446.60 L278.5 446.61 L279.0 446.72 L279.5 446.91 L280.0 447.15 L280.5 447.40 L281.0 447.64 L281.5 447.81 L282.0 447.90 L282.5 447.82 L283.0 447.55 L283.5 447.18 L284.0 446.79 L284.5 446.47 L285.0 446.31 L285.5 446.37 L286.0 446.63 L286.5 447.01 L287.0 447.45 L287.5 447.89 L288.0 448.27 L288.5 448.53 L289.0 448.60 L289.5 448.56 L290.0 448.46 L290.5 448.33 L291.0 448.16 L291.5 447.96 L292.0 447.75 L292.5 447.53 L293.0 447.32 L293.5 447.12 L294.0 446.94 L294.5 446.79 L295.0 446.67 L295.5 446.61 L296.0 446.60 L296.5 446.62 L297.0 446.65 L297.5 446.70 L298.0 446.77 L298.5 446.84 L299.0 446.93 L299.5 447.03 L300.0 447.14 L300.5 447.25 L301.0 447.38 L301.5 447.55 L302.0 447.86 L302.5 448.25 L303.0 448.67 L303.5 449.07 L304.0 449.41 L304.5 449.64 L305.0 449.70 L305.5 449.66 L306.0 449.58 L306.5 449.45 L307.0 449.30 L307.5 449.13 L308.0 448.94 L308.5 448.74 L309.0 448.55 L309.5 448.37 L310.0 448.20 L310.5 448.07 L311.0 447.97 L311.5 447.91 L312.0 447.91 L312.5 447.97 L313.0 448.10 L313.5 448.26 L314.0 448.46 L314.5 448.67 L315.0 448.88 L315.5 449.07 L316.0 449.23 L316.5 449.35 L317.0 449.40 L317.5 449.36 L318.0 449.22 L318.5 448.99 L319.0 448.70 L319.5 448.37 L320.0 448.03 L320.5 447.70 L321.0 447.41 L321.5 447.18 L322.0 447.04 L322.5 447.00 L323.0 447.03 L323.5 447.09 L324.0 447.19 L324.5 447.30 L325.0 447.43 L325.5 447.57 L326.0 447.71 L326.5 447.84 L327.0 447.97 L327.5 448.07 L328.0 448.15 L328.5 448.20 L329.0 448.23 L329.5 448.26 L330.0 448.28 L330.5 448.31 L331.0 448.33 L331.5 448.35 L332.0 448.38 L332.5 448.40 L333.0 448.41 L333.5 448.43 L334.0 448.45 L334.5 448.46 L335.0 448.47 L335.5 448.48 L336.0 448.49 L336.5 448.49 L337.0 448.50 L337.5 448.50 L338.0 448.49 L338.5 448.43 L339.0 448.33 L339.5 448.21 L340.0 448.06 L340.5 447.90 L341.0 447.75 L341.5 447.61 L342.0 447.50 L342.5 447.43 L343.0 447.40 L343.5 447.51 L344.0 447.79 L344.5 448.19 L345.0 448.64 L345.5 449.08 L346.0 449.44 L346.5 449.66 L347.0 449.68 L347.5 449.45 L348.0 449.07 L348.5 448.62 L349.0 448.22 L349.5 447.95 L350.0 447.92 L350.5 448.09 L351.0 448.40 L351.5 448.78 L352.0 449.20 L352.5 449.57 L353.0 449.86 L353.5 450.00 L354.0 449.99 L354.5 449.94 L355.0 449.86 L355.5 449.76 L356.0 449.64 L356.5 449.50 L357.0 449.35 L357.5 449.20 L358.0 449.05 L358.5 448.91 L359.0 448.78 L359.5 448.66 L360.0 448.57 L360.5 448.50 L361.0 448.45 L361.5 448.41 L362.0 448.36 L362.5 448.33 L363.0 448.29 L363.5 448.26 L364.0 448.23 L364.5 448.20 L365.0 448.17 L365.5 448.15 L366.0 448.12 L366.5 448.09 L367.0 448.07 L367.5 448.04 L368.0 448.01 L368.5 447.98 L369.0 447.94 L369.5 447.91 L370.0 447.87 L370.5 447.81 L371.0 447.76 L371.5 447.70 L372.0 447.63 L372.5 447.57 L373.0 447.52 L373.5 447.47 L374.0 447.43 L374.5 447.41 L375.0 447.40 L375.5 447.46 L376.0 447.61 L376.5 447.79 L377.0 447.94 L377.5 448.00 L378.0 447.95 L378.5 447.84 L379.0 447.68 L379.5 447.52 L380.0 447.39 L380.5 447.31 L381.0 447.33 L381.5 447.47 L382.0 447.70 L382.5 447.98 L383.0 448.25 L383.5 448.46 L384.0 448.59 L384.5 448.57 L385.0 448.38 L385.5 448.09 L386.0 447.77 L386.5 447.47 L387.0 447.26 L387.5 447.20 L388.0 447.21 L388.5 447.23 L389.0 447.26 L389.5 447.28 L390.0 447.30 L390.5 447.22 L391.0 446.80 L391.5 446.11 L392.0 445.28 L392.5 444.01 L393.0 441.95 L393.5 439.76 L394.0 438.10 L394.5 436.93 L395.0 435.83 L395.5 434.94 L396.0 434.40 L396.5 434.34 L397.0 434.75 L397.5 435.43 L398.0 436.21 L398.5 436.90 L399.0 437.52 L399.5 438.17 L400.0 438.80 L400.5 439.33 L401.0 439.70 L401.5 439.97 L402.0 440.20 L402.5 440.36 L403.0 440.40 L403.5 440.26 L404.0 439.96 L404.5 439.50 L405.0 438.93 L405.5 437.85 L406.0 435.70 L406.5 432.96 L407.0 429.66 L407.5 424.86 L408.0 419.77 L408.5 415.82 L409.0 413.44 L409.5 411.25 L410.0 409.32 L410.5 407.79 L411.0 406.77 L411.5 406.40 L412.0 406.83 L412.5 407.91 L413.0 409.37 L413.5 410.92 L414.0 412.43 L414.5 414.29 L415.0 416.33 L415.5 418.28 L416.0 419.90 L416.5 421.09 L417.0 422.22 L417.5 423.22 L418.0 423.93 L418.5 424.20 L419.0 423.93 L419.5 423.21 L420.0 422.16 L420.5 420.92 L421.0 419.29 L421.5 416.15 L422.0 411.70 L422.5 406.26 L423.0 400.16 L423.5 393.75 L424.0 387.35 L424.5 381.29 L425.0 375.90 L425.5 371.53 L426.0 368.50 L426.5 367.14 L427.0 367.42 L427.5 368.65 L428.0 370.68 L428.5 373.37 L429.0 376.57 L429.5 380.16 L430.0 384.00 L430.5 387.94 L431.0 391.86 L431.5 395.61 L432.0 399.06 L432.5 402.08 L433.0 404.52 L433.5 406.24 L434.0 407.12 L434.5 406.91 L435.0 405.24 L435.5 402.27 L436.0 398.24 L436.5 393.37 L437.0 387.88 L437.5 382.02 L438.0 375.99 L438.5 370.03 L439.0 364.37 L439.5 359.22 L440.0 354.83 L440.5 351.41 L441.0 349.19 L441.5 348.40 L442.0 349.02 L442.5 350.78 L443.0 353.49 L443.5 357.00 L444.0 361.14 L444.5 365.73 L445.0 370.61 L445.5 375.60 L446.0 380.55 L446.5 385.27 L447.0 389.61 L447.5 393.39 L448.0 396.44 L448.5 398.60 L449.0 399.70 L449.5 399.52 L450.0 397.90 L450.5 395.03 L451.0 391.13 L451.5 386.43 L452.0 381.15 L452.5 375.51 L453.0 369.74 L453.5 364.06 L454.0 358.69 L454.5 353.85 L455.0 349.78 L455.5 346.68 L456.0 344.79 L456.5 344.33 L457.0 345.36 L457.5 347.70 L458.0 351.15 L458.5 355.49 L459.0 360.53 L459.5 366.07 L460.0 371.89 L460.5 377.79 L461.0 383.57 L461.5 389.02 L462.0 393.94 L462.5 398.12 L463.0 401.36 L463.5 403.46 L464.0 404.20 L464.5 403.64 L465.0 402.08 L465.5 399.67 L466.0 396.56 L466.5 392.93 L467.0 388.91 L467.5 384.67 L468.0 380.37 L468.5 376.17 L469.0 372.21 L469.5 368.67 L470.0 365.69 L470.5 363.43 L471.0 362.06 L471.5 361.73 L472.0 362.60 L472.5 364.58 L473.0 367.50 L473.5 371.17 L474.0 375.42 L474.5 380.08 L475.0 384.97 L475.5 389.90 L476.0 394.72 L476.5 399.24 L477.0 403.28 L477.5 406.67 L478.0 409.23 L478.5 410.79 L479.0 411.18 L479.5 410.57 L480.0 409.20 L480.5 407.23 L481.0 404.80 L481.5 402.05 L482.0 399.14 L482.5 396.22 L483.0 393.43 L483.5 390.92 L484.0 388.85 L484.5 387.35 L485.0 386.57 L485.5 386.63 L486.0 387.39 L486.5 388.76 L487.0 390.64 L487.5 392.96 L488.0 395.63 L488.5 398.56 L489.0 401.67 L489.5 404.88 L490.0 408.09 L490.5 411.23 L491.0 414.20 L491.5 416.93 L492.0 419.33 L492.5 421.31 L493.0 422.78 L493.5 423.67 L494.0 423.88 L494.5 423.38 L495.0 422.27 L495.5 420.69 L496.0 418.77 L496.5 416.65 L497.0 414.45 L497.5 412.33 L498.0 410.41 L498.5 408.83 L499.0 407.72 L499.5 407.22 L500.0 407.41 L500.5 408.19 L501.0 409.45 L501.5 411.11 L502.0 413.05 L502.5 415.18 L503.0 417.40 L503.5 419.60 L504.0 421.69 L504.5 423.57 L505.0 425.13 L505.5 426.48 L506.0 427.90 L506.5 429.35 L507.0 430.73 L507.5 431.96 L508.0 432.97 L508.5 433.67 L509.0 433.99 L509.5 433.87 L510.0 433.38 L510.5 432.61 L511.0 431.63 L511.5 430.52 L512.0 429.35 L512.5 428.20 L513.0 427.16 L513.5 426.29 L514.0 425.68 L514.5 425.41 L515.0 425.52 L515.5 425.98 L516.0 426.72 L516.5 427.67 L517.0 428.74 L517.5 429.89 L518.0 431.02 L518.5 432.09 L519.0 433.00 L519.5 433.88 L520.0 434.85 L520.5 435.87 L521.0 436.90 L521.5 437.90 L522.0 438.82 L522.5 439.62 L523.0 440.26 L523.5 440.70 L524.0 440.89 L524.5 440.89 L525.0 440.85 L525.5 440.79 L526.0 440.71 L526.5 440.62 L527.0 440.42 L527.5 439.96 L528.0 439.37 L528.5 438.75 L529.0 438.21 L529.5 437.86 L530.0 437.83 L530.5 438.10 L531.0 438.61 L531.5 439.31 L532.0 440.13 L532.5 441.02 L533.0 441.91 L533.5 442.74 L534.0 443.45 L534.5 444.01 L535.0 444.56 L535.5 445.13 L536.0 445.69 L536.5 446.24 L537.0 446.74 L537.5 447.19 L538.0 447.55 L538.5 447.82 L539.0 447.97 L539.5 448.00 L540.0 447.95 L540.5 447.86 L541.0 447.74 L541.5 447.60 L542.0 447.46 L542.5 447.31 L543.0 447.18 L543.5 447.08 L544.0 447.02 L544.5 447.00 L545.0 447.05 L545.5 447.15 L546.0 447.30 L546.5 447.49 L547.0 447.69 L547.5 447.91 L548.0 448.12 L548.5 448.33 L549.0 448.61 L549.5 448.93 L550.0 449.29 L550.5 449.67 L551.0 450.05 L551.5 450.41 L552.0 450.74 L552.5 451.02 L553.0 451.23 L553.5 451.37 L554.0 451.40 L554.5 451.36 L555.0 451.26 L555.5 451.14 L556.0 450.99 L556.5 450.85 L557.0 450.71 L557.5 450.59 L558.0 450.52 L558.5 450.50 L559.0 450.52 L559.5 450.56 L560.0 450.62 L560.5 450.70 L561.0 450.79 L561.5 450.90 L562.0 451.01 L562.5 451.14 L563.0 451.27 L563.5 451.40 L564.0 451.58 L564.5 451.84 L565.0 452.16 L565.5 452.53 L566.0 452.92 L566.5 453.31 L567.0 453.68 L567.5 454.01 L568.0 454.29 L568.5 454.49 L569.0 454.59 L569.5 454.59 L570.0 454.55 L570.5 454.47 L571.0 454.36 L571.5 454.24 L572.0 454.11 L572.5 453.98 L573.0 453.86 L573.5 453.75 L574.0 453.67 L574.5 453.61 L575.0 453.60 L575.5 453.61 L576.0 453.64 L576.5 453.68 L577.0 453.73 L577.5 453.80 L578.0 453.87 L578.5 453.94 L579.0 454.03 L579.5 454.11 L580.0 454.20 L580.5 454.32 L581.0 454.49 L581.5 454.69 L582.0 454.91 L582.5 455.12 L583.0 455.32 L583.5 455.47 L584.0 455.57 L584.5 455.60 L585.0 455.57 L585.5 455.49 L586.0 455.39 L586.5 455.26 L587.0 455.12 L587.5 454.97 L588.0 454.81 L588.5 454.66 L589.0 454.53 L589.5 454.42 L590.0 454.34 L590.5 454.30 L591.0 454.32 L591.5 454.40 L592.0 454.55 L592.5 454.75 L593.0 454.98 L593.5 455.23 L594.0 455.47 L594.5 455.71 L595.0 455.91 L595.5 456.07 L596.0 456.17 L596.5 456.20 L597.0 456.20 L597.5 456.19 L598.0 456.17 L598.5 456.15 L599.0 456.13 L599.5 456.10 L600.0 456.08 L600.5 456.05 L601.0 456.02 L601.5 456.00 L602.0 455.97 L602.5 455.95 L603.0 455.93 L603.5 455.91 L604.0 455.90 L604.5 455.90 L605.0 455.91 L605.5 455.94 L606.0 456.00 L606.5 456.07 L607.0 456.16 L607.5 456.26 L608.0 456.36 L608.5 456.47 L609.0 456.58 L609.5 456.68 L610.0 456.78 L610.5 456.86 L611.0 456.93 L611.5 456.97 L612.0 457.00 L612.5 457.00 L613.0 457.00 L613.5 457.00 L614.0 457.00 L614.5 457.00 L615.0 457.00 L615.5 457.00 L616.0 457.00 L616.5 457.00 L617.0 457.00 L617.5 457.00 L618.0 457.00 L618.5 457.00 L619.0 457.00 L619.5 457.00 L620.0 457.00 L620.5 456.99 L621.0 456.97 L621.5 456.94 L622.0 456.91 L622.5 456.86 L623.0 456.81 L623.5 456.76 L624.0 456.70 L624.5 456.64 L625.0 456.57 L625.5 456.50 L626.0 456.44 L626.5 456.37 L627.0 456.30 L627.5 456.24 L628.0 456.18 L628.5 456.12 L629.0 456.07 L629.5 456.02 L630.0 455.98 L630.5 455.95 L631.0 455.92 L631.5 455.91 L632.0 455.90 L632.5 455.90 L633.0 455.90 L633.5 455.90 L634.0 455.90 L634.5 455.90 L635.0 455.90 L635.5 455.90 L636.0 455.90 L636.5 455.90 L637.0 455.90 L637.5 455.90 L638.0 455.90 L638.5 455.90 L639.0 455.90 L639.5 455.90 L640.0 455.90 L640.5 455.90 L641.0 455.90 L641.5 455.90 L642.0 455.90 L642.5 455.90 L643.0 455.90 L643.5 455.90 L644.0 455.90 L644.5 455.90 L645.0 455.90 L645.5 455.90 L646.0 455.90 L646.5 455.90 L647.0 455.90 L647.5 455.90 L648.0 455.92 L648.5 455.94 L649.0 455.98 L649.5 456.03 L650.0 456.09 L650.5 456.15 L651.0 456.22 L651.5 456.29 L652.0 456.37 L652.5 456.44 L653.0 456.52 L653.5 456.59 L654.0 456.67 L654.5 456.74 L655.0 456.80 L655.5 456.86 L656.0 456.91 L656.5 456.95 L657.0 456.98 L657.5 457.00 L658.0 457.00 L658.5 456.91 L659.0 456.71 L659.5 456.44 L660.0 456.13 L660.5 455.81 L661.0 455.50 L661.5 455.24 L662.0 455.07 L662.5 455.00 L663.0 455.04 L663.5 455.14 L664.0 455.30 L664.5 455.50 L665.0 455.73 L665.5 455.99 L666.0 456.25 L666.5 456.51 L667.0 456.76 L667.5 456.98 L668.0 457.17 L668.5 457.31 L669.0 457.39 L669.5 457.39 L670.0 457.31 L670.5 457.15 L671.0 456.94 L671.5 456.69 L672.0 456.42 L672.5 456.16 L673.0 455.91 L673.5 455.71 L674.0 455.57 L674.5 455.50 L675.0 455.50 L675.5 455.51 L676.0 455.52 L676.5 455.53 L677.0 455.55 L677.5 455.57 L678.0 455.59 L678.5 455.62 L679.0 455.64 L679.5 455.67 L680.0 455.70 L680.5 455.74 L681.0 455.81 L681.5 455.89 L682.0 455.98 L682.5 456.07 L683.0 456.15 L683.5 456.23 L684.0 456.28 L684.5 456.30 L685.0 456.27 L685.5 456.18 L686.0 456.02 L686.5 455.83 L687.0 455.62 L687.5 455.40 L688.0 455.19 L688.5 455.01 L689.0 454.88 L689.5 454.81 L690.0 454.84 L690.5 455.08 L691.0 455.43 L691.5 455.82 L692.0 456.13 L692.5 456.29 L693.0 456.30 L693.5 456.30 L694.0 456.30 L694.5 456.30 L695.0 456.30 L695.5 456.30 L696.0 456.30 L696.5 456.30 L697.0 456.30 L697.5 456.30 L698.0 456.30 L698.5 456.30 L699.0 456.30 L699.5 456.30 L700.0 456.30 L700.5 456.30 L701.0 456.25 L701.5 456.08 L702.0 455.85 L702.5 455.62 L703.0 455.45 L703.5 455.40 L704.0 455.50 L704.5 455.69 L705.0 455.92 L705.5 456.13 L706.0 456.27 L706.5 456.29 L707.0 456.21 L707.5 456.07 L708.0 455.88 L708.5 455.70 L709.0 455.54 L709.5 455.42 L710.0 455.38 L710.5 455.34 L711.0 455.32 L711.5 455.30 L712.0 455.28 L712.5 455.27 L713.0 455.26 L713.5 455.25 L714.0 455.24 L714.5 455.22 L715.0 455.20 L715.5 455.17 L716.0 455.14 L716.5 455.10 L717.0 454.92 L717.5 454.54 L718.0 454.03 L718.5 453.49 L719.0 453.00 L719.5 452.64 L720.0 452.50 L720.5 452.55 L721.0 452.67 L721.5 452.83 L722.0 453.00 L722.5 453.16 L723.0 453.27 L723.5 453.30 L724.0 453.30 L724.5 453.30 L725.0 453.30 L725.5 453.30 L726.0 453.30 L726.5 453.30 L727.0 453.30 L727.5 453.30 L728.0 453.30 L728.5 453.30 L729.0 453.30 L729.5 453.23 L730.0 452.97 L730.5 452.53 L731.0 451.96 L731.5 451.27 L732.0 450.51 L732.5 449.70 L733.0 448.87 L733.5 448.05 L734.0 447.28 L734.5 446.57 L735.0 445.97 L735.5 445.51 L736.0 445.21 L736.5 445.10 L737.0 445.20 L737.5 445.46 L738.0 445.85 L738.5 446.32 L739.0 446.84 L739.5 447.37 L740.0 447.87 L740.5 448.30 L741.0 448.62 L741.5 448.78 L742.0 448.79 L742.5 448.71 L743.0 448.58 L743.5 448.39 L744.0 448.15 L744.5 447.88 L745.0 447.59 L745.5 447.27 L746.0 446.93 L746.5 446.55 L747.0 445.93 L747.5 445.12 L748.0 444.18 L748.5 443.17 L749.0 442.16 L749.5 441.21 L750.0 440.37 L750.5 439.72 L751.0 439.31 L751.5 439.20 L752.0 439.34 L752.5 439.63 L753.0 440.04 L753.5 440.53 L754.0 441.07 L754.5 441.60 L755.0 442.09 L755.5 442.51 L756.0 442.80 L756.5 443.02 L757.0 443.25 L757.5 443.46 L758.0 443.66 L758.5 443.84 L759.0 443.99 L759.5 444.10 L760.0 444.17 L760.5 444.20 L761.0 444.04 L761.5 443.58 L762.0 442.87 L762.5 441.96 L763.0 440.89 L763.5 439.73 L764.0 438.50" fill="none" stroke="#222" stroke-width="1.0" stroke-linejoin="round"/>
<path d="M24.0 482.6 V475.8 M98.0 482.6 V478.4 M172.0 482.6 V475.8 M246.0 482.6 V478.4 M320.0 482.6 V475.8 M394.0 482.6 V478.4 M468.0 482.6 V475.8 M542.0 482.6 V478.4 M616.0 482.6 V475.8 M690.0 482.6 V478.4 M764.0 482.6 V475.8" stroke="#222" stroke-width="1.4" fill="none"/>
<rect x="24.0" y="269.5" width="740.0" height="213.1" fill="none" stroke="#222" stroke-width="1.55"/>
<text transform="translate(24.0 506.1) scale(1 1.050)" text-anchor="middle">5660</text>
<text transform="translate(172.0 506.1) scale(1 1.050)" text-anchor="middle">5670</text>
<text transform="translate(320.0 506.1) scale(1 1.050)" text-anchor="middle">5680</text>
<text transform="translate(468.0 506.1) scale(1 1.050)" text-anchor="middle">5690</text>
<text transform="translate(616.0 506.1) scale(1 1.050)" text-anchor="middle">5700</text>
<text transform="translate(764.0 506.1) scale(1 1.050)" text-anchor="middle">5710</text>
<text transform="translate(394.4 535.8) scale(1.03 1)" text-anchor="middle">m/z</text>
<text transform="translate(406.2 428.7) rotate(-90) scale(1 1.050)">5685.2</text>
<text transform="translate(436.0 360.5) rotate(-90) scale(1 1.050)">5687.2</text>
<text transform="translate(465.4 337.6) rotate(-90) scale(1 1.050)">5689.2</text>
<text transform="translate(494.0 380.1) rotate(-90) scale(1 1.050)">5691.2</text>
<text transform="translate(522.9 419.8) rotate(-90) scale(1 1.050)">5693.1</text>
<path d="M24.0 729.40 L24.5 729.40 L25.0 729.40 L25.5 729.41 L26.0 729.41 L26.5 729.41 L27.0 729.42 L27.5 729.42 L28.0 729.42 L28.5 729.42 L29.0 729.43 L29.5 729.43 L30.0 729.43 L30.5 729.43 L31.0 729.44 L31.5 729.44 L32.0 729.44 L32.5 729.44 L33.0 729.45 L33.5 729.45 L34.0 729.45 L34.5 729.45 L35.0 729.46 L35.5 729.46 L36.0 729.46 L36.5 729.46 L37.0 729.47 L37.5 729.47 L38.0 729.47 L38.5 729.48 L39.0 729.48 L39.5 729.48 L40.0 729.48 L40.5 729.49 L41.0 729.49 L41.5 729.49 L42.0 729.49 L42.5 729.50 L43.0 729.50 L43.5 729.50 L44.0 729.51 L44.5 729.51 L45.0 729.51 L45.5 729.51 L46.0 729.52 L46.5 729.52 L47.0 729.52 L47.5 729.53 L48.0 729.53 L48.5 729.53 L49.0 729.53 L49.5 729.54 L50.0 729.54 L50.5 729.54 L51.0 729.55 L51.5 729.55 L52.0 729.55 L52.5 729.56 L53.0 729.56 L53.5 729.56 L54.0 729.56 L54.5 729.57 L55.0 729.57 L55.5 729.57 L56.0 729.58 L56.5 729.58 L57.0 729.58 L57.5 729.58 L58.0 729.59 L58.5 729.59 L59.0 729.59 L59.5 729.60 L60.0 729.60 L60.5 729.60 L61.0 729.61 L61.5 729.61 L62.0 729.61 L62.5 729.61 L63.0 729.62 L63.5 729.62 L64.0 729.62 L64.5 729.63 L65.0 729.63 L65.5 729.63 L66.0 729.63 L66.5 729.64 L67.0 729.64 L67.5 729.64 L68.0 729.64 L68.5 729.65 L69.0 729.65 L69.5 729.65 L70.0 729.66 L70.5 729.66 L71.0 729.66 L71.5 729.66 L72.0 729.67 L72.5 729.67 L73.0 729.67 L73.5 729.68 L74.0 729.68 L74.5 729.68 L75.0 729.68 L75.5 729.69 L76.0 729.69 L76.5 729.69 L77.0 729.70 L77.5 729.70 L78.0 729.70 L78.5 729.71 L79.0 729.71 L79.5 729.71 L80.0 729.72 L80.5 729.72 L81.0 729.72 L81.5 729.73 L82.0 729.73 L82.5 729.73 L83.0 729.74 L83.5 729.74 L84.0 729.75 L84.5 729.75 L85.0 729.75 L85.5 729.76 L86.0 729.76 L86.5 729.77 L87.0 729.77 L87.5 729.78 L88.0 729.78 L88.5 729.78 L89.0 729.79 L89.5 729.79 L90.0 729.80 L90.5 729.81 L91.0 729.81 L91.5 729.82 L92.0 729.83 L92.5 729.84 L93.0 729.85 L93.5 729.86 L94.0 729.87 L94.5 729.88 L95.0 729.89 L95.5 729.91 L96.0 729.92 L96.5 729.93 L97.0 729.95 L97.5 729.96 L98.0 729.97 L98.5 729.99 L99.0 730.00 L99.5 730.01 L100.0 730.03 L100.5 730.04 L101.0 730.06 L101.5 730.07 L102.0 730.08 L102.5 730.09 L103.0 730.11 L103.5 730.12 L104.0 730.13 L104.5 730.14 L105.0 730.15 L105.5 730.16 L106.0 730.17 L106.5 730.18 L107.0 730.18 L107.5 730.19 L108.0 730.19 L108.5 730.20 L109.0 730.20 L109.5 730.20 L110.0 730.20 L110.5 730.20 L111.0 730.20 L111.5 730.19 L112.0 730.19 L112.5 730.19 L113.0 730.18 L113.5 730.18 L114.0 730.17 L114.5 730.16 L115.0 730.15 L115.5 730.14 L116.0 730.13 L116.5 730.12 L117.0 730.11 L117.5 730.10 L118.0 730.09 L118.5 730.08 L119.0 730.07 L119.5 730.05 L120.0 730.04 L120.5 730.03 L121.0 730.01 L121.5 730.00 L122.0 729.99 L122.5 729.97 L123.0 729.96 L123.5 729.94 L124.0 729.93 L124.5 729.91 L125.0 729.90 L125.5 729.88 L126.0 729.87 L126.5 729.85 L127.0 729.84 L127.5 729.82 L128.0 729.81 L128.5 729.79 L129.0 729.78 L129.5 729.77 L130.0 729.75 L130.5 729.74 L131.0 729.73 L131.5 729.72 L132.0 729.70 L132.5 729.69 L133.0 729.68 L133.5 729.67 L134.0 729.66 L134.5 729.65 L135.0 729.64 L135.5 729.64 L136.0 729.63 L136.5 729.62 L137.0 729.62 L137.5 729.61 L138.0 729.61 L138.5 729.60 L139.0 729.60 L139.5 729.60 L140.0 729.60 L140.5 729.60 L141.0 729.60 L141.5 729.60 L142.0 729.60 L142.5 729.60 L143.0 729.60 L143.5 729.60 L144.0 729.60 L144.5 729.60 L145.0 729.60 L145.5 729.60 L146.0 729.60 L146.5 729.60 L147.0 729.60 L147.5 729.60 L148.0 729.60 L148.5 729.60 L149.0 729.60 L149.5 729.60 L150.0 729.60 L150.5 729.60 L151.0 729.59 L151.5 729.59 L152.0 729.57 L152.5 729.56 L153.0 729.54 L153.5 729.51 L154.0 729.49 L154.5 729.46 L155.0 729.43 L155.5 729.40 L156.0 729.36 L156.5 729.32 L157.0 729.28 L157.5 729.24 L158.0 729.20 L158.5 729.16 L159.0 729.12 L159.5 729.07 L160.0 729.03 L160.5 728.98 L161.0 728.93 L161.5 728.87 L162.0 728.81 L162.5 728.74 L163.0 728.67 L163.5 728.59 L164.0 728.51 L164.5 728.42 L165.0 728.33 L165.5 728.24 L166.0 728.14 L166.5 728.04 L167.0 727.94 L167.5 727.84 L168.0 727.73 L168.5 727.63 L169.0 727.52 L169.5 727.41 L170.0 727.30 L170.5 727.19 L171.0 727.08 L171.5 726.97 L172.0 726.85 L172.5 726.74 L173.0 726.61 L173.5 726.49 L174.0 726.36 L174.5 726.23 L175.0 726.09 L175.5 725.95 L176.0 725.80 L176.5 725.64 L177.0 725.48 L177.5 725.30 L178.0 725.12 L178.5 724.94 L179.0 724.74 L179.5 724.51 L180.0 724.22 L180.5 723.88 L181.0 723.48 L181.5 723.05 L182.0 722.60 L182.5 722.13 L183.0 721.66 L183.5 721.19 L184.0 720.74 L184.5 720.31 L185.0 719.92 L185.5 719.58 L186.0 719.30 L186.5 719.08 L187.0 718.95 L187.5 718.90 L188.0 718.91 L188.5 718.95 L189.0 719.00 L189.5 719.06 L190.0 719.13 L190.5 719.20 L191.0 719.27 L191.5 719.32 L192.0 719.37 L192.5 719.40 L193.0 719.39 L193.5 719.32 L194.0 719.17 L194.5 718.96 L195.0 718.70 L195.5 718.40 L196.0 718.07 L196.5 717.73 L197.0 717.38 L197.5 717.03 L198.0 716.59 L198.5 716.04 L199.0 715.39 L199.5 714.67 L200.0 713.90 L200.5 713.11 L201.0 712.31 L201.5 711.53 L202.0 710.80 L202.5 710.14 L203.0 709.56 L203.5 709.10 L204.0 708.78 L204.5 708.62 L205.0 708.63 L205.5 708.78 L206.0 709.06 L206.5 709.42 L207.0 709.85 L207.5 710.31 L208.0 710.79 L208.5 711.25 L209.0 711.68 L209.5 712.04 L210.0 712.32 L210.5 712.47 L211.0 712.49 L211.5 712.34 L212.0 712.05 L212.5 711.63 L213.0 711.12 L213.5 710.52 L214.0 709.88 L214.5 709.20 L215.0 708.50 L215.5 707.82 L216.0 707.18 L216.5 706.58 L217.0 706.07 L217.5 705.65 L218.0 705.36 L218.5 705.21 L219.0 705.22 L219.5 705.36 L220.0 705.60 L220.5 705.92 L221.0 706.32 L221.5 706.77 L222.0 707.25 L222.5 707.75 L223.0 708.25 L223.5 708.73 L224.0 709.18 L224.5 709.58 L225.0 709.90 L225.5 710.14 L226.0 710.28 L226.5 710.28 L227.0 710.12 L227.5 709.80 L228.0 709.36 L228.5 708.82 L229.0 708.23 L229.5 707.60 L230.0 706.97 L230.5 706.38 L231.0 705.84 L231.5 705.40 L232.0 705.08 L232.5 704.92 L233.0 704.93 L233.5 705.07 L234.0 705.34 L234.5 705.71 L235.0 706.16 L235.5 706.68 L236.0 707.26 L236.5 707.87 L237.0 708.51 L237.5 709.15 L238.0 709.78 L238.5 710.38 L239.0 710.93 L239.5 711.43 L240.0 711.85 L240.5 712.18 L241.0 712.40 L241.5 712.50 L242.0 712.47 L242.5 712.37 L243.0 712.21 L243.5 711.99 L244.0 711.75 L244.5 711.48 L245.0 711.21 L245.5 710.95 L246.0 710.72 L246.5 710.52 L247.0 710.38 L247.5 710.31 L248.0 710.33 L248.5 710.49 L249.0 710.77 L249.5 711.16 L250.0 711.63 L250.5 712.18 L251.0 712.77 L251.5 713.40 L252.0 714.04 L252.5 714.68 L253.0 715.29 L253.5 715.86 L254.0 716.36 L254.5 716.79 L255.0 717.12 L255.5 717.33 L256.0 717.40 L256.5 717.39 L257.0 717.35 L257.5 717.30 L258.0 717.23 L258.5 717.14 L259.0 717.05 L259.5 716.95 L260.0 716.84 L260.5 716.74 L261.0 716.63 L261.5 716.53 L262.0 716.44 L262.5 716.36 L263.0 716.29 L263.5 716.24 L264.0 716.21 L264.5 716.20 L265.0 716.27 L265.5 716.43 L266.0 716.67 L266.5 716.98 L267.0 717.35 L267.5 717.76 L268.0 718.20 L268.5 718.67 L269.0 719.15 L269.5 719.62 L270.0 720.09 L270.5 720.52 L271.0 720.93 L271.5 721.28 L272.0 721.58 L272.5 721.81 L273.0 721.95 L273.5 722.00 L274.0 721.95 L274.5 721.82 L275.0 721.63 L275.5 721.40 L276.0 721.15 L276.5 720.92 L277.0 720.72 L277.5 720.57 L278.0 720.50 L278.5 720.53 L279.0 720.66 L279.5 720.87 L280.0 721.13 L280.5 721.43 L281.0 721.73 L281.5 722.03 L282.0 722.30 L282.5 722.51 L283.0 722.65 L283.5 722.70 L284.0 722.72 L284.5 722.73 L285.0 722.73 L285.5 722.74 L286.0 722.75 L286.5 722.75 L287.0 722.75 L287.5 722.76 L288.0 722.76 L288.5 722.77 L289.0 722.78 L289.5 722.79 L290.0 722.80 L290.5 722.83 L291.0 722.87 L291.5 722.94 L292.0 723.02 L292.5 723.12 L293.0 723.23 L293.5 723.36 L294.0 723.49 L294.5 723.63 L295.0 723.77 L295.5 723.92 L296.0 724.07 L296.5 724.25 L297.0 724.51 L297.5 724.80 L298.0 725.08 L298.5 725.29 L299.0 725.40 L299.5 725.39 L300.0 725.37 L300.5 725.34 L301.0 725.29 L301.5 725.23 L302.0 725.16 L302.5 725.09 L303.0 725.01 L303.5 724.93 L304.0 724.85 L304.5 724.77 L305.0 724.69 L305.5 724.62 L306.0 724.56 L306.5 724.50 L307.0 724.45 L307.5 724.42 L308.0 724.40 L308.5 724.40 L309.0 724.40 L309.5 724.41 L310.0 724.41 L310.5 724.42 L311.0 724.43 L311.5 724.44 L312.0 724.45 L312.5 724.46 L313.0 724.48 L313.5 724.49 L314.0 724.51 L314.5 724.53 L315.0 724.54 L315.5 724.56 L316.0 724.59 L316.5 724.61 L317.0 724.63 L317.5 724.65 L318.0 724.68 L318.5 724.70 L319.0 724.72 L319.5 724.75 L320.0 724.77 L320.5 724.80 L321.0 724.83 L321.5 724.87 L322.0 724.92 L322.5 724.97 L323.0 725.04 L323.5 725.10 L324.0 725.17 L324.5 725.25 L325.0 725.33 L325.5 725.41 L326.0 725.49 L326.5 725.57 L327.0 725.65 L327.5 725.73 L328.0 725.80 L328.5 725.87 L329.0 725.94 L329.5 726.00 L330.0 726.06 L330.5 726.10 L331.0 726.14 L331.5 726.17 L332.0 726.19 L332.5 726.20 L333.0 726.20 L333.5 726.19 L334.0 726.17 L334.5 726.15 L335.0 726.12 L335.5 726.08 L336.0 726.04 L336.5 726.00 L337.0 725.95 L337.5 725.89 L338.0 725.83 L338.5 725.77 L339.0 725.71 L339.5 725.65 L340.0 725.58 L340.5 725.52 L341.0 725.45 L341.5 725.38 L342.0 725.32 L342.5 725.25 L343.0 725.19 L343.5 725.13 L344.0 725.07 L344.5 725.01 L345.0 724.95 L345.5 724.90 L346.0 724.86 L346.5 724.82 L347.0 724.78 L347.5 724.75 L348.0 724.73 L348.5 724.71 L349.0 724.70 L349.5 724.70 L350.0 724.71 L350.5 724.74 L351.0 724.79 L351.5 724.84 L352.0 724.91 L352.5 724.99 L353.0 725.07 L353.5 725.16 L354.0 725.25 L354.5 725.34 L355.0 725.43 L355.5 725.52 L356.0 725.61 L356.5 725.69 L357.0 725.76 L357.5 725.82 L358.0 725.87 L358.5 725.90 L359.0 725.93 L359.5 725.95 L360.0 725.98 L360.5 726.00 L361.0 726.03 L361.5 726.05 L362.0 726.08 L362.5 726.10 L363.0 726.12 L363.5 726.14 L364.0 726.16 L364.5 726.18 L365.0 726.20 L365.5 726.21 L366.0 726.23 L366.5 726.24 L367.0 726.25 L367.5 726.27 L368.0 726.28 L368.5 726.28 L369.0 726.29 L369.5 726.29 L370.0 726.30 L370.5 726.30 L371.0 726.30 L371.5 726.29 L372.0 726.26 L372.5 726.23 L373.0 726.19 L373.5 726.15 L374.0 726.10 L374.5 726.04 L375.0 725.98 L375.5 725.92 L376.0 725.86 L376.5 725.79 L377.0 725.73 L377.5 725.67 L378.0 725.61 L378.5 725.56 L379.0 725.52 L379.5 725.48 L380.0 725.44 L380.5 725.42 L381.0 725.40 L381.5 725.40 L382.0 725.41 L382.5 725.42 L383.0 725.44 L383.5 725.46 L384.0 725.49 L384.5 725.53 L385.0 725.57 L385.5 725.61 L386.0 725.66 L386.5 725.71 L387.0 725.76 L387.5 725.80 L388.0 725.85 L388.5 725.90 L389.0 725.95 L389.5 726.00 L390.0 726.04 L390.5 726.08 L391.0 726.11 L391.5 726.14 L392.0 726.17 L392.5 726.18 L393.0 726.20 L393.5 726.20 L394.0 726.18 L394.5 726.14 L395.0 726.08 L395.5 726.00 L396.0 725.91 L396.5 725.81 L397.0 725.71 L397.5 725.62 L398.0 725.54 L398.5 725.47 L399.0 725.42 L399.5 725.40 L400.0 725.40 L400.5 725.42 L401.0 725.45 L401.5 725.48 L402.0 725.52 L402.5 725.56 L403.0 725.60 L403.5 725.65 L404.0 725.69 L404.5 725.73 L405.0 725.76 L405.5 725.78 L406.0 725.80 L406.5 725.80 L407.0 725.79 L407.5 725.78 L408.0 725.76 L408.5 725.74 L409.0 725.71 L409.5 725.67 L410.0 725.63 L410.5 725.59 L411.0 725.53 L411.5 725.47 L412.0 725.41 L412.5 725.34 L413.0 725.27 L413.5 725.19 L414.0 725.10 L414.5 724.96 L415.0 724.74 L415.5 724.45 L416.0 724.11 L416.5 723.74 L417.0 723.37 L417.5 722.98 L418.0 722.52 L418.5 722.00 L419.0 721.45 L419.5 720.90 L420.0 720.36 L420.5 719.86 L421.0 719.42 L421.5 719.05 L422.0 718.72 L422.5 718.39 L423.0 718.03 L423.5 717.60 L424.0 716.93 L424.5 716.02 L425.0 715.10 L425.5 714.39 L426.0 714.10 L426.5 714.22 L427.0 714.51 L427.5 714.85 L428.0 715.16 L428.5 715.49 L429.0 715.85 L429.5 716.14 L430.0 716.30 L430.5 716.22 L431.0 715.90 L431.5 715.38 L432.0 714.71 L432.5 713.94 L433.0 713.10 L433.5 711.95 L434.0 710.34 L434.5 708.48 L435.0 706.35 L435.5 703.69 L436.0 700.70 L436.5 697.56 L437.0 694.50 L437.5 691.70 L438.0 689.39 L438.5 687.44 L439.0 685.46 L439.5 683.68 L440.0 682.35 L440.5 681.72 L441.0 681.98 L441.5 682.95 L442.0 684.38 L442.5 685.99 L443.0 687.53 L443.5 689.03 L444.0 690.87 L444.5 692.85 L445.0 694.71 L445.5 696.22 L446.0 697.13 L446.5 697.23 L447.0 696.43 L447.5 694.83 L448.0 692.55 L448.5 689.67 L449.0 686.31 L449.5 682.55 L450.0 678.51 L450.5 674.29 L451.0 669.99 L451.5 665.70 L452.0 661.54 L452.5 657.61 L453.0 654.00 L453.5 650.81 L454.0 648.16 L454.5 646.14 L455.0 644.85 L455.5 644.40 L456.0 645.01 L456.5 646.69 L457.0 649.25 L457.5 652.49 L458.0 656.22 L458.5 660.22 L459.0 664.30 L459.5 668.26 L460.0 671.90 L460.5 675.02 L461.0 677.42 L461.5 678.91 L462.0 679.28 L462.5 678.50 L463.0 676.72 L463.5 674.07 L464.0 670.69 L464.5 666.71 L465.0 662.25 L465.5 657.47 L466.0 652.48 L466.5 647.42 L467.0 642.43 L467.5 637.65 L468.0 633.19 L468.5 629.21 L469.0 625.83 L469.5 623.18 L470.0 621.40 L470.5 620.62 L471.0 621.13 L471.5 623.16 L472.0 626.46 L472.5 630.77 L473.0 635.84 L473.5 641.39 L474.0 647.18 L474.5 652.95 L475.0 658.42 L475.5 663.36 L476.0 667.49 L476.5 670.55 L477.0 672.30 L477.5 672.50 L478.0 671.48 L478.5 669.44 L479.0 666.55 L479.5 662.97 L480.0 658.83 L480.5 654.30 L481.0 649.52 L481.5 644.65 L482.0 639.84 L482.5 635.25 L483.0 631.02 L483.5 627.31 L484.0 624.27 L484.5 622.06 L485.0 620.81 L485.5 620.73 L486.0 622.08 L486.5 624.74 L487.0 628.49 L487.5 633.10 L488.0 638.35 L488.5 644.02 L489.0 649.89 L489.5 655.74 L490.0 661.34 L490.5 666.48 L491.0 670.94 L491.5 674.48 L492.0 676.90 L492.5 677.97 L493.0 677.72 L493.5 676.62 L494.0 674.83 L494.5 672.45 L495.0 669.62 L495.5 666.44 L496.0 663.04 L496.5 659.55 L497.0 656.08 L497.5 652.76 L498.0 649.70 L498.5 647.03 L499.0 644.88 L499.5 643.35 L500.0 642.57 L500.5 642.73 L501.0 644.04 L501.5 646.37 L502.0 649.54 L502.5 653.39 L503.0 657.73 L503.5 662.41 L504.0 667.23 L504.5 672.05 L505.0 676.67 L505.5 680.93 L506.0 684.65 L506.5 687.67 L507.0 689.81 L507.5 690.90 L508.0 690.86 L508.5 690.09 L509.0 688.73 L509.5 686.89 L510.0 684.71 L510.5 682.29 L511.0 679.75 L511.5 677.21 L512.0 674.79 L512.5 672.61 L513.0 670.77 L513.5 669.41 L514.0 668.64 L514.5 668.57 L515.0 669.36 L515.5 670.92 L516.0 673.12 L516.5 675.84 L517.0 678.98 L517.5 682.40 L518.0 685.99 L518.5 689.63 L519.0 693.20 L519.5 696.57 L520.0 699.64 L520.5 702.27 L521.0 704.35 L521.5 705.76 L522.0 706.38 L522.5 706.31 L523.0 705.97 L523.5 705.40 L524.0 704.65 L524.5 703.75 L525.0 702.75 L525.5 701.68 L526.0 700.58 L526.5 699.48 L527.0 698.44 L527.5 697.47 L528.0 696.63 L528.5 695.95 L529.0 695.47 L529.5 695.22 L530.0 695.26 L530.5 695.62 L531.0 696.25 L531.5 697.10 L532.0 698.11 L532.5 699.23 L533.0 700.41 L533.5 701.60 L534.0 703.17 L534.5 705.37 L535.0 707.92 L535.5 710.53 L536.0 712.93 L536.5 714.84 L537.0 715.99 L537.5 716.18 L538.0 716.02 L538.5 715.72 L539.0 715.29 L539.5 714.79 L540.0 714.24 L540.5 713.66 L541.0 713.11 L541.5 712.61 L542.0 712.18 L542.5 711.88 L543.0 711.72 L543.5 711.76 L544.0 712.13 L544.5 712.75 L545.0 713.58 L545.5 714.52 L546.0 715.53 L546.5 716.53 L547.0 717.46 L547.5 718.25 L548.0 719.06 L548.5 719.96 L549.0 720.89 L549.5 721.81 L550.0 722.66 L550.5 723.39 L551.0 723.96 L551.5 724.31 L552.0 724.40 L552.5 724.33 L553.0 724.17 L553.5 723.95 L554.0 723.67 L554.5 723.36 L555.0 723.03 L555.5 722.70 L556.0 722.39 L556.5 722.10 L557.0 721.87 L557.5 721.70 L558.0 721.61 L558.5 721.65 L559.0 721.95 L559.5 722.45 L560.0 723.07 L560.5 723.76 L561.0 724.44 L561.5 725.04 L562.0 725.50 L562.5 725.87 L563.0 726.25 L563.5 726.62 L564.0 726.96 L564.5 727.24 L565.0 727.46 L565.5 727.58 L566.0 727.60 L566.5 727.60 L567.0 727.60 L567.5 727.60 L568.0 727.60 L568.5 727.60 L569.0 727.60 L569.5 727.60 L570.0 727.56 L570.5 727.43 L571.0 727.23 L571.5 727.02 L572.0 726.84 L572.5 726.72 L573.0 726.71 L573.5 726.83 L574.0 727.05 L574.5 727.32 L575.0 727.59 L575.5 727.84 L576.0 728.00 L576.5 728.11 L577.0 728.22 L577.5 728.32 L578.0 728.42 L578.5 728.52 L579.0 728.60 L579.5 728.68 L580.0 728.75 L580.5 728.80 L581.0 728.85 L581.5 728.88 L582.0 728.90 L582.5 728.90 L583.0 728.89 L583.5 728.87 L584.0 728.85 L584.5 728.82 L585.0 728.79 L585.5 728.75 L586.0 728.71 L586.5 728.67 L587.0 728.63 L587.5 728.60 L588.0 728.57 L588.5 728.54 L589.0 728.52 L589.5 728.50 L590.0 728.50 L590.5 728.51 L591.0 728.54 L591.5 728.58 L592.0 728.63 L592.5 728.70 L593.0 728.77 L593.5 728.85 L594.0 728.93 L594.5 729.02 L595.0 729.10 L595.5 729.18 L596.0 729.26 L596.5 729.33 L597.0 729.39 L597.5 729.44 L598.0 729.48 L598.5 729.50 L599.0 729.50 L599.5 729.50 L600.0 729.50 L600.5 729.50 L601.0 729.50 L601.5 729.50 L602.0 729.50 L602.5 729.50 L603.0 729.50 L603.5 729.50 L604.0 729.50 L604.5 729.50 L605.0 729.50 L605.5 729.50 L606.0 729.50 L606.5 729.50 L607.0 729.50 L607.5 729.50 L608.0 729.50 L608.5 729.50 L609.0 729.50 L609.5 729.50 L610.0 729.50 L610.5 729.50 L611.0 729.50 L611.5 729.49 L612.0 729.49 L612.5 729.49 L613.0 729.48 L613.5 729.47 L614.0 729.46 L614.5 729.46 L615.0 729.45 L615.5 729.44 L616.0 729.43 L616.5 729.42 L617.0 729.41 L617.5 729.40 L618.0 729.39 L618.5 729.38 L619.0 729.37 L619.5 729.36 L620.0 729.35 L620.5 729.34 L621.0 729.34 L621.5 729.33 L622.0 729.32 L622.5 729.31 L623.0 729.31 L623.5 729.31 L624.0 729.30 L624.5 729.30 L625.0 729.30 L625.5 729.30 L626.0 729.30 L626.5 729.30 L627.0 729.30 L627.5 729.30 L628.0 729.30 L628.5 729.31 L629.0 729.31 L629.5 729.31 L630.0 729.31 L630.5 729.31 L631.0 729.32 L631.5 729.32 L632.0 729.32 L632.5 729.33 L633.0 729.33 L633.5 729.33 L634.0 729.34 L634.5 729.34 L635.0 729.34 L635.5 729.35 L636.0 729.35 L636.5 729.36 L637.0 729.36 L637.5 729.36 L638.0 729.37 L638.5 729.37 L639.0 729.38 L639.5 729.38 L640.0 729.39 L640.5 729.39 L641.0 729.40 L641.5 729.40 L642.0 729.41 L642.5 729.41 L643.0 729.42 L643.5 729.43 L644.0 729.43 L644.5 729.44 L645.0 729.44 L645.5 729.45 L646.0 729.45 L646.5 729.46 L647.0 729.47 L647.5 729.47 L648.0 729.48 L648.5 729.48 L649.0 729.49 L649.5 729.49 L650.0 729.50 L650.5 729.51 L651.0 729.51 L651.5 729.52 L652.0 729.52 L652.5 729.53 L653.0 729.53 L653.5 729.54 L654.0 729.54 L654.5 729.55 L655.0 729.55 L655.5 729.56 L656.0 729.56 L656.5 729.57 L657.0 729.57 L657.5 729.58 L658.0 729.58 L658.5 729.59 L659.0 729.59 L659.5 729.60 L660.0 729.60 L660.5 729.60 L661.0 729.61 L661.5 729.61 L662.0 729.62 L662.5 729.62 L663.0 729.62 L663.5 729.63 L664.0 729.63 L664.5 729.64 L665.0 729.64 L665.5 729.64 L666.0 729.65 L666.5 729.65 L667.0 729.65 L667.5 729.66 L668.0 729.66 L668.5 729.66 L669.0 729.67 L669.5 729.67 L670.0 729.68 L670.5 729.68 L671.0 729.68 L671.5 729.69 L672.0 729.69 L672.5 729.69 L673.0 729.70 L673.5 729.70 L674.0 729.70 L674.5 729.71 L675.0 729.71 L675.5 729.72 L676.0 729.72 L676.5 729.72 L677.0 729.73 L677.5 729.73 L678.0 729.73 L678.5 729.74 L679.0 729.74 L679.5 729.74 L680.0 729.75 L680.5 729.75 L681.0 729.75 L681.5 729.76 L682.0 729.76 L682.5 729.77 L683.0 729.77 L683.5 729.77 L684.0 729.78 L684.5 729.78 L685.0 729.78 L685.5 729.79 L686.0 729.79 L686.5 729.79 L687.0 729.80 L687.5 729.80 L688.0 729.80 L688.5 729.81 L689.0 729.81 L689.5 729.82 L690.0 729.82 L690.5 729.82 L691.0 729.83 L691.5 729.83 L692.0 729.84 L692.5 729.84 L693.0 729.84 L693.5 729.85 L694.0 729.85 L694.5 729.85 L695.0 729.86 L695.5 729.86 L696.0 729.87 L696.5 729.87 L697.0 729.87 L697.5 729.88 L698.0 729.88 L698.5 729.89 L699.0 729.89 L699.5 729.90 L700.0 729.90 L700.5 729.90 L701.0 729.91 L701.5 729.91 L702.0 729.92 L702.5 729.92 L703.0 729.93 L703.5 729.93 L704.0 729.93 L704.5 729.94 L705.0 729.94 L705.5 729.95 L706.0 729.95 L706.5 729.96 L707.0 729.96 L707.5 729.97 L708.0 729.97 L708.5 729.98 L709.0 729.98 L709.5 729.99 L710.0 729.99 L710.5 729.99 L711.0 730.00 L711.5 730.00 L712.0 730.01 L712.5 730.01 L713.0 730.02 L713.5 730.02 L714.0 730.03 L714.5 730.03 L715.0 730.04 L715.5 730.04 L716.0 730.05 L716.5 730.05 L717.0 730.06 L717.5 730.06 L718.0 730.07 L718.5 730.07 L719.0 730.08 L719.5 730.08 L720.0 730.09 L720.5 730.09 L721.0 730.10 L721.5 730.10 L722.0 730.11 L722.5 730.11 L723.0 730.12 L723.5 730.12 L724.0 730.13 L724.5 730.13 L725.0 730.14 L725.5 730.14 L726.0 730.15 L726.5 730.15 L727.0 730.16 L727.5 730.16 L728.0 730.17 L728.5 730.17 L729.0 730.18 L729.5 730.19 L730.0 730.19 L730.5 730.20 L731.0 730.20 L731.5 730.21 L732.0 730.21 L732.5 730.22 L733.0 730.22 L733.5 730.23 L734.0 730.23 L734.5 730.24 L735.0 730.24 L735.5 730.25 L736.0 730.26 L736.5 730.26 L737.0 730.27 L737.5 730.27 L738.0 730.28 L738.5 730.28 L739.0 730.29 L739.5 730.29 L740.0 730.30 L740.5 730.31 L741.0 730.31 L741.5 730.32 L742.0 730.32 L742.5 730.33 L743.0 730.33 L743.5 730.34 L744.0 730.35 L744.5 730.35 L745.0 730.36 L745.5 730.36 L746.0 730.37 L746.5 730.38 L747.0 730.38 L747.5 730.39 L748.0 730.39 L748.5 730.40 L749.0 730.41 L749.5 730.41 L750.0 730.42 L750.5 730.42 L751.0 730.43 L751.5 730.44 L752.0 730.44 L752.5 730.45 L753.0 730.46 L753.5 730.46 L754.0 730.47 L754.5 730.48 L755.0 730.48 L755.5 730.49 L756.0 730.49 L756.5 730.50 L757.0 730.51 L757.5 730.51 L758.0 730.52 L758.5 730.53 L759.0 730.53 L759.5 730.54 L760.0 730.55 L760.5 730.55 L761.0 730.56 L761.5 730.57 L762.0 730.57 L762.5 730.58 L763.0 730.59 L763.5 730.59 L764.0 730.60" fill="none" stroke="#222" stroke-width="1.0" stroke-linejoin="round"/>
<path d="M24.0 753.7 V746.9 M98.0 753.7 V749.5 M172.0 753.7 V746.9 M246.0 753.7 V749.5 M320.0 753.7 V746.9 M394.0 753.7 V749.5 M468.0 753.7 V746.9 M542.0 753.7 V749.5 M616.0 753.7 V746.9 M690.0 753.7 V749.5 M764.0 753.7 V746.9" stroke="#222" stroke-width="1.4" fill="none"/>
<rect x="24.0" y="542.0" width="740.0" height="211.7" fill="none" stroke="#222" stroke-width="1.55"/>
<text transform="translate(24.0 777.2) scale(1 1.050)" text-anchor="middle">5630</text>
<text transform="translate(172.0 777.2) scale(1 1.050)" text-anchor="middle">5640</text>
<text transform="translate(320.0 777.2) scale(1 1.050)" text-anchor="middle">5650</text>
<text transform="translate(468.0 777.2) scale(1 1.050)" text-anchor="middle">5660</text>
<text transform="translate(616.0 777.2) scale(1 1.050)" text-anchor="middle">5670</text>
<text transform="translate(764.0 777.2) scale(1 1.050)" text-anchor="middle">5680</text>
<text transform="translate(394.4 809.4) scale(1.03 1)" text-anchor="middle">m/z</text>
<text transform="translate(435.7 707.6) rotate(-90) scale(1 1.050)">5657.2</text>
<text transform="translate(466.0 638.1) rotate(-90) scale(1 1.050)">5659.2</text>
<text transform="translate(494.8 614.4) rotate(-90) scale(1 1.050)">5661.2</text>
<text transform="translate(523.8 661.4) rotate(-90) scale(1 1.050)">5663.1</text>
<text transform="translate(551.7 706.0) rotate(-90) scale(1 1.050)">5665.1</text>
<path d="M24.0 1001.30 L24.5 1001.47 L25.0 1001.63 L25.5 1001.78 L26.0 1001.92 L26.5 1002.05 L27.0 1002.17 L27.5 1002.28 L28.0 1002.39 L28.5 1002.48 L29.0 1002.56 L29.5 1002.63 L30.0 1002.68 L30.5 1002.73 L31.0 1002.76 L31.5 1002.79 L32.0 1002.80 L32.5 1002.80 L33.0 1002.77 L33.5 1002.72 L34.0 1002.66 L34.5 1002.58 L35.0 1002.49 L35.5 1002.40 L36.0 1002.30 L36.5 1002.20 L37.0 1002.11 L37.5 1002.02 L38.0 1001.94 L38.5 1001.88 L39.0 1001.83 L39.5 1001.80 L40.0 1001.80 L40.5 1001.85 L41.0 1001.93 L41.5 1002.04 L42.0 1002.17 L42.5 1002.31 L43.0 1002.45 L43.5 1002.58 L44.0 1002.69 L44.5 1002.76 L45.0 1002.80 L45.5 1002.79 L46.0 1002.76 L46.5 1002.72 L47.0 1002.65 L47.5 1002.57 L48.0 1002.49 L48.5 1002.39 L49.0 1002.30 L49.5 1002.20 L50.0 1002.10 L50.5 1002.01 L51.0 1001.93 L51.5 1001.86 L52.0 1001.80 L52.5 1001.75 L53.0 1001.70 L53.5 1001.65 L54.0 1001.60 L54.5 1001.55 L55.0 1001.50 L55.5 1001.46 L56.0 1001.42 L56.5 1001.38 L57.0 1001.35 L57.5 1001.33 L58.0 1001.31 L58.5 1001.30 L59.0 1001.31 L59.5 1001.39 L60.0 1001.55 L60.5 1001.77 L61.0 1002.03 L61.5 1002.30 L62.0 1002.57 L62.5 1002.83 L63.0 1003.05 L63.5 1003.21 L64.0 1003.29 L64.5 1003.28 L65.0 1003.17 L65.5 1003.00 L66.0 1002.77 L66.5 1002.53 L67.0 1002.28 L67.5 1002.06 L68.0 1001.90 L68.5 1001.81 L69.0 1001.80 L69.5 1001.80 L70.0 1001.80 L70.5 1001.80 L71.0 1001.80 L71.5 1001.80 L72.0 1001.80 L72.5 1001.80 L73.0 1001.80 L73.5 1001.80 L74.0 1001.80 L74.5 1001.80 L75.0 1001.80 L75.5 1001.80 L76.0 1001.80 L76.5 1001.80 L77.0 1001.80 L77.5 1001.80 L78.0 1001.80 L78.5 1001.83 L79.0 1001.91 L79.5 1002.01 L80.0 1002.14 L80.5 1002.29 L81.0 1002.45 L81.5 1002.62 L82.0 1002.78 L82.5 1002.93 L83.0 1003.07 L83.5 1003.18 L84.0 1003.26 L84.5 1003.30 L85.0 1003.30 L85.5 1003.28 L86.0 1003.25 L86.5 1003.20 L87.0 1003.14 L87.5 1003.07 L88.0 1003.00 L88.5 1002.91 L89.0 1002.82 L89.5 1002.73 L90.0 1002.63 L90.5 1002.53 L91.0 1002.43 L91.5 1002.34 L92.0 1002.24 L92.5 1002.15 L93.0 1002.07 L93.5 1002.00 L94.0 1001.93 L94.5 1001.88 L95.0 1001.84 L95.5 1001.81 L96.0 1001.80 L96.5 1001.80 L97.0 1001.82 L97.5 1001.84 L98.0 1001.86 L98.5 1001.90 L99.0 1001.94 L99.5 1001.98 L100.0 1002.03 L100.5 1002.08 L101.0 1002.13 L101.5 1002.19 L102.0 1002.24 L102.5 1002.29 L103.0 1002.34 L103.5 1002.38 L104.0 1002.42 L104.5 1002.46 L105.0 1002.49 L105.5 1002.51 L106.0 1002.53 L106.5 1002.55 L107.0 1002.57 L107.5 1002.59 L108.0 1002.61 L108.5 1002.63 L109.0 1002.65 L109.5 1002.67 L110.0 1002.69 L110.5 1002.70 L111.0 1002.72 L111.5 1002.73 L112.0 1002.75 L112.5 1002.76 L113.0 1002.77 L113.5 1002.78 L114.0 1002.79 L114.5 1002.79 L115.0 1002.80 L115.5 1002.80 L116.0 1002.80 L116.5 1002.78 L117.0 1002.73 L117.5 1002.66 L118.0 1002.58 L118.5 1002.48 L119.0 1002.37 L119.5 1002.26 L120.0 1002.15 L120.5 1002.04 L121.0 1001.95 L121.5 1001.87 L122.0 1001.80 L122.5 1001.74 L123.0 1001.69 L123.5 1001.63 L124.0 1001.58 L124.5 1001.52 L125.0 1001.47 L125.5 1001.43 L126.0 1001.39 L126.5 1001.35 L127.0 1001.33 L127.5 1001.31 L128.0 1001.30 L128.5 1001.33 L129.0 1001.42 L129.5 1001.57 L130.0 1001.75 L130.5 1001.94 L131.0 1002.13 L131.5 1002.30 L132.0 1002.43 L132.5 1002.49 L133.0 1002.50 L133.5 1002.48 L134.0 1002.46 L134.5 1002.42 L135.0 1002.38 L135.5 1002.34 L136.0 1002.29 L136.5 1002.23 L137.0 1002.18 L137.5 1002.14 L138.0 1002.09 L138.5 1002.05 L139.0 1002.03 L139.5 1002.01 L140.0 1002.00 L140.5 1002.00 L141.0 1002.02 L141.5 1002.04 L142.0 1002.07 L142.5 1002.10 L143.0 1002.14 L143.5 1002.18 L144.0 1002.22 L144.5 1002.25 L145.0 1002.29 L145.5 1002.33 L146.0 1002.35 L146.5 1002.38 L147.0 1002.39 L147.5 1002.40 L148.0 1002.39 L148.5 1002.33 L149.0 1002.24 L149.5 1002.12 L150.0 1001.99 L150.5 1001.84 L151.0 1001.70 L151.5 1001.56 L152.0 1001.43 L152.5 1001.32 L153.0 1001.24 L153.5 1001.20 L154.0 1001.21 L154.5 1001.25 L155.0 1001.33 L155.5 1001.43 L156.0 1001.55 L156.5 1001.68 L157.0 1001.82 L157.5 1001.95 L158.0 1002.07 L158.5 1002.17 L159.0 1002.25 L159.5 1002.29 L160.0 1002.30 L160.5 1002.29 L161.0 1002.27 L161.5 1002.25 L162.0 1002.21 L162.5 1002.17 L163.0 1002.13 L163.5 1002.09 L164.0 1002.04 L164.5 1001.99 L165.0 1001.94 L165.5 1001.87 L166.0 1001.80 L166.5 1001.71 L167.0 1001.62 L167.5 1001.53 L168.0 1001.42 L168.5 1001.31 L169.0 1001.19 L169.5 1001.06 L170.0 1000.93 L170.5 1000.80 L171.0 1000.63 L171.5 1000.41 L172.0 1000.14 L172.5 999.85 L173.0 999.56 L173.5 999.27 L174.0 999.01 L174.5 998.78 L175.0 998.61 L175.5 998.52 L176.0 998.51 L176.5 998.66 L177.0 998.87 L177.5 999.08 L178.0 999.20 L178.5 999.12 L179.0 998.81 L179.5 998.32 L180.0 997.70 L180.5 997.01 L181.0 996.29 L181.5 995.60 L182.0 994.98 L182.5 994.49 L183.0 994.18 L183.5 994.10 L184.0 994.24 L184.5 994.50 L185.0 994.81 L185.5 995.12 L186.0 995.34 L186.5 995.40 L187.0 995.36 L187.5 995.27 L188.0 995.15 L188.5 994.98 L189.0 994.78 L189.5 994.57 L190.0 994.33 L190.5 994.08 L191.0 993.83 L191.5 993.58 L192.0 993.34 L192.5 993.12 L193.0 992.91 L193.5 992.73 L194.0 992.58 L194.5 992.44 L195.0 992.29 L195.5 992.13 L196.0 991.94 L196.5 991.69 L197.0 991.28 L197.5 990.72 L198.0 990.05 L198.5 989.32 L199.0 988.57 L199.5 987.85 L200.0 987.18 L200.5 986.63 L201.0 986.23 L201.5 986.02 L202.0 986.01 L202.5 986.08 L203.0 986.20 L203.5 986.37 L204.0 986.57 L204.5 986.80 L205.0 987.04 L205.5 987.30 L206.0 987.56 L206.5 987.80 L207.0 988.03 L207.5 988.23 L208.0 988.40 L208.5 988.52 L209.0 988.59 L209.5 988.59 L210.0 988.48 L210.5 988.27 L211.0 987.97 L211.5 987.60 L212.0 987.16 L212.5 986.68 L213.0 986.17 L213.5 985.64 L214.0 985.11 L214.5 984.60 L215.0 984.02 L215.5 983.25 L216.0 982.38 L216.5 981.51 L217.0 980.74 L217.5 980.17 L218.0 979.91 L218.5 980.03 L219.0 980.48 L219.5 981.18 L220.0 982.02 L220.5 982.91 L221.0 983.73 L221.5 984.41 L222.0 984.83 L222.5 984.96 L223.0 985.02 L223.5 985.06 L224.0 985.12 L224.5 985.20 L225.0 985.43 L225.5 985.86 L226.0 986.41 L226.5 986.98 L227.0 987.49 L227.5 987.86 L228.0 988.00 L228.5 987.62 L229.0 986.63 L229.5 985.27 L230.0 983.74 L230.5 982.28 L231.0 981.11 L231.5 980.46 L232.0 980.45 L232.5 980.73 L233.0 981.21 L233.5 981.85 L234.0 982.62 L234.5 983.45 L235.0 984.32 L235.5 985.16 L236.0 985.95 L236.5 986.63 L237.0 987.16 L237.5 987.50 L238.0 987.72 L238.5 987.93 L239.0 988.13 L239.5 988.29 L240.0 988.43 L240.5 988.53 L241.0 988.59 L241.5 988.57 L242.0 988.30 L242.5 987.80 L243.0 987.17 L243.5 986.50 L244.0 985.89 L244.5 985.43 L245.0 985.21 L245.5 985.23 L246.0 985.36 L246.5 985.56 L247.0 985.83 L247.5 986.15 L248.0 986.51 L248.5 986.89 L249.0 987.27 L249.5 987.67 L250.0 988.22 L250.5 988.91 L251.0 989.68 L251.5 990.46 L252.0 991.19 L252.5 991.80 L253.0 992.23 L253.5 992.42 L254.0 992.52 L254.5 992.60 L255.0 992.68 L255.5 992.74 L256.0 992.80 L256.5 992.84 L257.0 992.87 L257.5 992.89 L258.0 992.90 L258.5 992.88 L259.0 992.84 L259.5 992.77 L260.0 992.70 L260.5 992.61 L261.0 992.52 L261.5 992.44 L262.0 992.37 L262.5 992.32 L263.0 992.30 L263.5 992.35 L264.0 992.55 L264.5 992.85 L265.0 993.24 L265.5 993.67 L266.0 994.11 L266.5 994.52 L267.0 994.88 L267.5 995.15 L268.0 995.29 L268.5 995.28 L269.0 995.20 L269.5 995.06 L270.0 994.89 L270.5 994.71 L271.0 994.54 L271.5 994.40 L272.0 994.32 L272.5 994.31 L273.0 994.43 L273.5 994.65 L274.0 994.92 L274.5 995.22 L275.0 995.50 L275.5 995.73 L276.0 995.87 L276.5 995.90 L277.0 995.85 L277.5 995.78 L278.0 995.68 L278.5 995.57 L279.0 995.46 L279.5 995.37 L280.0 995.32 L280.5 995.30 L281.0 995.42 L281.5 995.67 L282.0 996.02 L282.5 996.44 L283.0 996.90 L283.5 997.34 L284.0 997.75 L284.5 998.09 L285.0 998.32 L285.5 998.40 L286.0 998.31 L286.5 998.07 L287.0 997.74 L287.5 997.35 L288.0 996.96 L288.5 996.63 L289.0 996.39 L289.5 996.30 L290.0 996.35 L290.5 996.47 L291.0 996.67 L291.5 996.92 L292.0 997.20 L292.5 997.51 L293.0 997.83 L293.5 998.13 L294.0 998.42 L294.5 998.66 L295.0 998.86 L295.5 998.98 L296.0 999.06 L296.5 999.12 L297.0 999.19 L297.5 999.25 L298.0 999.31 L298.5 999.37 L299.0 999.43 L299.5 999.48 L300.0 999.54 L300.5 999.59 L301.0 999.63 L301.5 999.68 L302.0 999.72 L302.5 999.76 L303.0 999.79 L303.5 999.83 L304.0 999.86 L304.5 999.88 L305.0 999.91 L305.5 999.93 L306.0 999.95 L306.5 999.97 L307.0 999.98 L307.5 999.99 L308.0 1000.00 L308.5 1000.00 L309.0 1000.00 L309.5 999.96 L310.0 999.88 L310.5 999.77 L311.0 999.63 L311.5 999.48 L312.0 999.32 L312.5 999.15 L313.0 998.98 L313.5 998.82 L314.0 998.68 L314.5 998.56 L315.0 998.47 L315.5 998.41 L316.0 998.40 L316.5 998.41 L317.0 998.42 L317.5 998.44 L318.0 998.47 L318.5 998.50 L319.0 998.53 L319.5 998.58 L320.0 998.62 L320.5 998.67 L321.0 998.71 L321.5 998.76 L322.0 998.81 L322.5 998.86 L323.0 998.91 L323.5 998.96 L324.0 999.00 L324.5 999.04 L325.0 999.10 L325.5 999.15 L326.0 999.21 L326.5 999.27 L327.0 999.33 L327.5 999.40 L328.0 999.46 L328.5 999.53 L329.0 999.59 L329.5 999.66 L330.0 999.72 L330.5 999.77 L331.0 999.82 L331.5 999.87 L332.0 999.91 L332.5 999.95 L333.0 999.97 L333.5 999.99 L334.0 1000.00 L334.5 999.99 L335.0 999.91 L335.5 999.77 L336.0 999.58 L336.5 999.35 L337.0 999.09 L337.5 998.80 L338.0 998.50 L338.5 998.20 L339.0 997.90 L339.5 997.61 L340.0 997.35 L340.5 997.12 L341.0 996.93 L341.5 996.79 L342.0 996.71 L342.5 996.70 L343.0 996.74 L343.5 996.83 L344.0 996.94 L344.5 997.09 L345.0 997.25 L345.5 997.44 L346.0 997.64 L346.5 997.84 L347.0 998.04 L347.5 998.24 L348.0 998.43 L348.5 998.60 L349.0 998.75 L349.5 998.87 L350.0 998.96 L350.5 999.01 L351.0 999.04 L351.5 999.08 L352.0 999.11 L352.5 999.14 L353.0 999.17 L353.5 999.19 L354.0 999.22 L354.5 999.25 L355.0 999.27 L355.5 999.29 L356.0 999.31 L356.5 999.33 L357.0 999.34 L357.5 999.36 L358.0 999.37 L358.5 999.38 L359.0 999.39 L359.5 999.39 L360.0 999.40 L360.5 999.40 L361.0 999.39 L361.5 999.34 L362.0 999.27 L362.5 999.17 L363.0 999.04 L363.5 998.90 L364.0 998.74 L364.5 998.57 L365.0 998.39 L365.5 998.21 L366.0 998.02 L366.5 997.84 L367.0 997.66 L367.5 997.49 L368.0 997.34 L368.5 997.20 L369.0 997.09 L369.5 997.00 L370.0 996.93 L370.5 996.90 L371.0 996.90 L371.5 996.91 L372.0 996.93 L372.5 996.96 L373.0 996.99 L373.5 997.03 L374.0 997.08 L374.5 997.13 L375.0 997.19 L375.5 997.25 L376.0 997.32 L376.5 997.39 L377.0 997.46 L377.5 997.54 L378.0 997.62 L378.5 997.70 L379.0 997.78 L379.5 997.86 L380.0 997.95 L380.5 998.03 L381.0 998.11 L381.5 998.19 L382.0 998.27 L382.5 998.34 L383.0 998.41 L383.5 998.50 L384.0 998.59 L384.5 998.69 L385.0 998.80 L385.5 998.91 L386.0 999.02 L386.5 999.12 L387.0 999.21 L387.5 999.29 L388.0 999.35 L388.5 999.39 L389.0 999.40 L389.5 999.40 L390.0 999.40 L390.5 999.40 L391.0 999.40 L391.5 999.40 L392.0 999.40 L392.5 999.40 L393.0 999.40 L393.5 999.40 L394.0 999.40 L394.5 999.40 L395.0 999.40 L395.5 999.40 L396.0 999.40 L396.5 999.40 L397.0 999.40 L397.5 999.39 L398.0 999.37 L398.5 999.33 L399.0 999.27 L399.5 999.20 L400.0 999.12 L400.5 999.04 L401.0 998.94 L401.5 998.84 L402.0 998.74 L402.5 998.64 L403.0 998.54 L403.5 998.44 L404.0 998.34 L404.5 998.26 L405.0 998.18 L405.5 998.12 L406.0 998.06 L406.5 998.02 L407.0 998.00 L407.5 998.16 L408.0 999.14 L408.5 999.29 L409.0 999.23 L409.5 999.14 L410.0 999.01 L410.5 998.85 L411.0 998.68 L411.5 998.50 L412.0 998.33 L412.5 998.16 L413.0 998.01 L413.5 997.87 L414.0 997.73 L414.5 997.58 L415.0 997.42 L415.5 997.24 L416.0 997.04 L416.5 996.80 L417.0 996.51 L417.5 996.16 L418.0 995.72 L418.5 995.21 L419.0 994.60 L419.5 993.64 L420.0 992.30 L420.5 990.95 L421.0 989.93 L421.5 989.09 L422.0 988.34 L422.5 987.79 L423.0 987.52 L423.5 987.34 L424.0 987.19 L424.5 987.08 L425.0 987.02 L425.5 987.00 L426.0 987.15 L426.5 987.44 L427.0 987.80 L427.5 988.16 L428.0 988.45 L428.5 988.74 L429.0 989.04 L429.5 989.28 L430.0 989.40 L430.5 989.31 L431.0 988.98 L431.5 988.42 L432.0 987.69 L432.5 986.78 L433.0 984.69 L433.5 981.70 L434.0 978.74 L434.5 975.66 L435.0 972.37 L435.5 969.17 L436.0 966.35 L436.5 964.03 L437.0 961.68 L437.5 959.39 L438.0 957.34 L438.5 955.71 L439.0 954.68 L439.5 954.41 L440.0 954.77 L440.5 955.58 L441.0 956.77 L441.5 958.24 L442.0 959.92 L442.5 961.73 L443.0 963.59 L443.5 965.42 L444.0 967.14 L444.5 968.66 L445.0 969.91 L445.5 970.80 L446.0 971.26 L446.5 971.07 L447.0 969.76 L447.5 967.40 L448.0 964.17 L448.5 960.21 L449.0 955.68 L449.5 950.75 L450.0 945.57 L450.5 940.29 L451.0 935.07 L451.5 930.07 L452.0 925.46 L452.5 921.37 L453.0 917.98 L453.5 915.44 L454.0 913.90 L454.5 913.53 L455.0 914.60 L455.5 916.98 L456.0 920.42 L456.5 924.68 L457.0 929.49 L457.5 934.61 L458.0 939.78 L458.5 944.75 L459.0 949.26 L459.5 953.06 L460.0 955.90 L460.5 957.52 L461.0 957.68 L461.5 956.35 L462.0 953.73 L462.5 949.99 L463.0 945.32 L463.5 939.92 L464.0 933.98 L464.5 927.67 L465.0 921.20 L465.5 914.75 L466.0 908.50 L466.5 902.65 L467.0 897.38 L467.5 892.89 L468.0 889.35 L468.5 886.97 L469.0 885.93 L469.5 886.50 L470.0 888.81 L470.5 892.59 L471.0 897.55 L471.5 903.43 L472.0 909.94 L472.5 916.81 L473.0 923.76 L473.5 930.53 L474.0 936.82 L474.5 942.36 L475.0 946.88 L475.5 950.10 L476.0 951.75 L476.5 951.63 L477.0 950.05 L477.5 947.26 L478.0 943.45 L478.5 938.85 L479.0 933.66 L479.5 928.09 L480.0 922.35 L480.5 916.65 L481.0 911.21 L481.5 906.23 L482.0 901.92 L482.5 898.49 L483.0 896.16 L483.5 895.13 L484.0 895.63 L484.5 897.64 L485.0 900.94 L485.5 905.30 L486.0 910.48 L486.5 916.27 L487.0 922.43 L487.5 928.72 L488.0 934.92 L488.5 940.80 L489.0 946.13 L489.5 950.67 L490.0 954.20 L490.5 956.49 L491.0 957.30 L491.5 956.83 L492.0 955.51 L492.5 953.46 L493.0 950.82 L493.5 947.72 L494.0 944.28 L494.5 940.63 L495.0 936.91 L495.5 933.24 L496.0 929.74 L496.5 926.56 L497.0 923.82 L497.5 921.65 L498.0 920.17 L498.5 919.52 L499.0 919.89 L499.5 921.41 L500.0 923.90 L500.5 927.21 L501.0 931.17 L501.5 935.63 L502.0 940.41 L502.5 945.35 L503.0 950.29 L503.5 955.07 L504.0 959.53 L504.5 963.49 L505.0 966.80 L505.5 969.29 L506.0 970.81 L506.5 971.18 L507.0 970.59 L507.5 969.30 L508.0 967.52 L508.5 965.43 L509.0 963.23 L509.5 961.13 L510.0 959.31 L510.5 957.70 L511.0 955.89 L511.5 954.03 L512.0 952.30 L512.5 950.85 L513.0 949.87 L513.5 949.50 L514.0 949.96 L514.5 951.21 L515.0 953.00 L515.5 955.11 L516.0 957.32 L516.5 959.42 L517.0 961.97 L517.5 965.13 L518.0 968.63 L518.5 972.23 L519.0 975.69 L519.5 978.75 L520.0 981.17 L520.5 982.69 L521.0 983.09 L521.5 982.76 L522.0 982.05 L522.5 981.10 L523.0 980.04 L523.5 979.00 L524.0 978.10 L524.5 977.24 L525.0 976.28 L525.5 975.28 L526.0 974.33 L526.5 973.49 L527.0 972.84 L527.5 972.47 L528.0 972.44 L528.5 972.91 L529.0 973.79 L529.5 974.96 L530.0 976.32 L530.5 977.76 L531.0 979.15 L531.5 980.38 L532.0 981.50 L532.5 982.75 L533.0 984.09 L533.5 985.47 L534.0 986.85 L534.5 988.19 L535.0 989.44 L535.5 990.54 L536.0 991.47 L536.5 992.17 L537.0 992.59 L537.5 992.70 L538.0 992.65 L538.5 992.53 L539.0 992.37 L539.5 992.17 L540.0 991.95 L540.5 991.49 L541.0 990.79 L541.5 989.95 L542.0 989.10 L542.5 988.34 L543.0 987.80 L543.5 987.60 L544.0 987.94 L544.5 988.83 L545.0 990.07 L545.5 991.47 L546.0 992.84 L546.5 993.98 L547.0 994.71 L547.5 995.27 L548.0 995.82 L548.5 996.34 L549.0 996.82 L549.5 997.26 L550.0 997.64 L550.5 997.96 L551.0 998.20 L551.5 998.35 L552.0 998.40 L552.5 998.38 L553.0 998.33 L553.5 998.25 L554.0 998.15 L554.5 998.04 L555.0 997.91 L555.5 997.78 L556.0 997.64 L556.5 997.42 L557.0 997.13 L557.5 996.82 L558.0 996.52 L558.5 996.28 L559.0 996.13 L559.5 996.12 L560.0 996.36 L560.5 996.81 L561.0 997.41 L561.5 998.12 L562.0 998.88 L562.5 999.63 L563.0 1000.32 L563.5 1000.90 L564.0 1001.31 L564.5 1001.49 L565.0 1001.49 L565.5 1001.44 L566.0 1001.35 L566.5 1001.25 L567.0 1001.13 L567.5 1001.00 L568.0 1000.87 L568.5 1000.75 L569.0 1000.65 L569.5 1000.56 L570.0 1000.51 L570.5 1000.51 L571.0 1000.74 L571.5 1001.12 L572.0 1001.43 L572.5 1001.48 L573.0 1001.25 L573.5 1000.87 L574.0 1000.41 L574.5 999.99 L575.0 999.69 L575.5 999.60 L576.0 999.73 L576.5 999.99 L577.0 1000.35 L577.5 1000.77 L578.0 1001.20 L578.5 1001.60 L579.0 1001.93 L579.5 1002.14 L580.0 1002.20 L580.5 1002.18 L581.0 1002.14 L581.5 1002.09 L582.0 1002.02 L582.5 1001.94 L583.0 1001.86 L583.5 1001.78 L584.0 1001.70 L584.5 1001.63 L585.0 1001.57 L585.5 1001.52 L586.0 1001.50 L586.5 1001.50 L587.0 1001.51 L587.5 1001.53 L588.0 1001.56 L588.5 1001.59 L589.0 1001.63 L589.5 1001.67 L590.0 1001.72 L590.5 1001.77 L591.0 1001.82 L591.5 1001.87 L592.0 1001.92 L592.5 1001.97 L593.0 1002.02 L593.5 1002.06 L594.0 1002.10 L594.5 1002.14 L595.0 1002.16 L595.5 1002.18 L596.0 1002.20 L596.5 1002.20 L597.0 1002.19 L597.5 1002.16 L598.0 1002.12 L598.5 1002.07 L599.0 1002.00 L599.5 1001.93 L600.0 1001.86 L600.5 1001.78 L601.0 1001.70 L601.5 1001.63 L602.0 1001.55 L602.5 1001.48 L603.0 1001.42 L603.5 1001.37 L604.0 1001.33 L604.5 1001.31 L605.0 1001.30 L605.5 1001.31 L606.0 1001.33 L606.5 1001.37 L607.0 1001.41 L607.5 1001.46 L608.0 1001.52 L608.5 1001.57 L609.0 1001.62 L609.5 1001.67 L610.0 1001.70 L610.5 1001.73 L611.0 1001.76 L611.5 1001.79 L612.0 1001.81 L612.5 1001.84 L613.0 1001.87 L613.5 1001.90 L614.0 1001.93 L614.5 1001.95 L615.0 1001.98 L615.5 1002.01 L616.0 1002.03 L616.5 1002.06 L617.0 1002.08 L617.5 1002.11 L618.0 1002.13 L618.5 1002.15 L619.0 1002.17 L619.5 1002.19 L620.0 1002.21 L620.5 1002.22 L621.0 1002.24 L621.5 1002.25 L622.0 1002.26 L622.5 1002.28 L623.0 1002.28 L623.5 1002.29 L624.0 1002.30 L624.5 1002.30 L625.0 1002.30 L625.5 1002.30 L626.0 1002.29 L626.5 1002.29 L627.0 1002.28 L627.5 1002.27 L628.0 1002.26 L628.5 1002.24 L629.0 1002.23 L629.5 1002.21 L630.0 1002.20 L630.5 1002.18 L631.0 1002.16 L631.5 1002.14 L632.0 1002.12 L632.5 1002.10 L633.0 1002.08 L633.5 1002.06 L634.0 1002.04 L634.5 1002.02 L635.0 1002.00 L635.5 1001.99 L636.0 1001.97 L636.5 1001.96 L637.0 1001.94 L637.5 1001.93 L638.0 1001.92 L638.5 1001.91 L639.0 1001.91 L639.5 1001.90 L640.0 1001.90 L640.5 1001.90 L641.0 1001.91 L641.5 1001.92 L642.0 1001.93 L642.5 1001.95 L643.0 1001.97 L643.5 1002.00 L644.0 1002.02 L644.5 1002.05 L645.0 1002.08 L645.5 1002.11 L646.0 1002.15 L646.5 1002.18 L647.0 1002.22 L647.5 1002.25 L648.0 1002.28 L648.5 1002.32 L649.0 1002.35 L649.5 1002.39 L650.0 1002.42 L650.5 1002.45 L651.0 1002.48 L651.5 1002.50 L652.0 1002.53 L652.5 1002.55 L653.0 1002.57 L653.5 1002.58 L654.0 1002.59 L654.5 1002.60 L655.0 1002.60 L655.5 1002.60 L656.0 1002.59 L656.5 1002.59 L657.0 1002.58 L657.5 1002.57 L658.0 1002.56 L658.5 1002.54 L659.0 1002.53 L659.5 1002.51 L660.0 1002.50 L660.5 1002.48 L661.0 1002.46 L661.5 1002.44 L662.0 1002.42 L662.5 1002.40 L663.0 1002.38 L663.5 1002.36 L664.0 1002.34 L664.5 1002.32 L665.0 1002.30 L665.5 1002.29 L666.0 1002.27 L666.5 1002.26 L667.0 1002.24 L667.5 1002.23 L668.0 1002.22 L668.5 1002.21 L669.0 1002.21 L669.5 1002.20 L670.0 1002.20 L670.5 1002.20 L671.0 1002.20 L671.5 1002.21 L672.0 1002.22 L672.5 1002.23 L673.0 1002.24 L673.5 1002.25 L674.0 1002.26 L674.5 1002.28 L675.0 1002.29 L675.5 1002.31 L676.0 1002.33 L676.5 1002.35 L677.0 1002.37 L677.5 1002.39 L678.0 1002.41 L678.5 1002.43 L679.0 1002.46 L679.5 1002.48 L680.0 1002.50 L680.5 1002.52 L681.0 1002.54 L681.5 1002.57 L682.0 1002.59 L682.5 1002.61 L683.0 1002.63 L683.5 1002.65 L684.0 1002.67 L684.5 1002.69 L685.0 1002.71 L685.5 1002.72 L686.0 1002.74 L686.5 1002.75 L687.0 1002.76 L687.5 1002.77 L688.0 1002.78 L688.5 1002.79 L689.0 1002.80 L689.5 1002.80 L690.0 1002.80 L690.5 1002.80 L691.0 1002.80 L691.5 1002.80 L692.0 1002.79 L692.5 1002.79 L693.0 1002.78 L693.5 1002.78 L694.0 1002.77 L694.5 1002.76 L695.0 1002.75 L695.5 1002.74 L696.0 1002.74 L696.5 1002.73 L697.0 1002.72 L697.5 1002.71 L698.0 1002.69 L698.5 1002.68 L699.0 1002.67 L699.5 1002.66 L700.0 1002.65 L700.5 1002.64 L701.0 1002.63 L701.5 1002.62 L702.0 1002.61 L702.5 1002.59 L703.0 1002.58 L703.5 1002.57 L704.0 1002.56 L704.5 1002.56 L705.0 1002.55 L705.5 1002.54 L706.0 1002.53 L706.5 1002.52 L707.0 1002.52 L707.5 1002.51 L708.0 1002.51 L708.5 1002.50 L709.0 1002.50 L709.5 1002.50 L710.0 1002.50 L710.5 1002.50 L711.0 1002.50 L711.5 1002.51 L712.0 1002.51 L712.5 1002.52 L713.0 1002.52 L713.5 1002.53 L714.0 1002.54 L714.5 1002.55 L715.0 1002.56 L715.5 1002.57 L716.0 1002.59 L716.5 1002.60 L717.0 1002.61 L717.5 1002.63 L718.0 1002.64 L718.5 1002.66 L719.0 1002.67 L719.5 1002.69 L720.0 1002.70 L720.5 1002.71 L721.0 1002.73 L721.5 1002.74 L722.0 1002.76 L722.5 1002.77 L723.0 1002.79 L723.5 1002.80 L724.0 1002.81 L724.5 1002.83 L725.0 1002.84 L725.5 1002.85 L726.0 1002.86 L726.5 1002.87 L727.0 1002.88 L727.5 1002.88 L728.0 1002.89 L728.5 1002.89 L729.0 1002.90 L729.5 1002.90 L730.0 1002.90 L730.5 1002.90 L731.0 1002.90 L731.5 1002.90 L732.0 1002.89 L732.5 1002.89 L733.0 1002.89 L733.5 1002.88 L734.0 1002.88 L734.5 1002.87 L735.0 1002.87 L735.5 1002.86 L736.0 1002.86 L736.5 1002.85 L737.0 1002.84 L737.5 1002.84 L738.0 1002.83 L738.5 1002.82 L739.0 1002.81 L739.5 1002.81 L740.0 1002.80 L740.5 1002.79 L741.0 1002.79 L741.5 1002.78 L742.0 1002.77 L742.5 1002.76 L743.0 1002.76 L743.5 1002.75 L744.0 1002.74 L744.5 1002.74 L745.0 1002.73 L745.5 1002.73 L746.0 1002.72 L746.5 1002.72 L747.0 1002.71 L747.5 1002.71 L748.0 1002.71 L748.5 1002.70 L749.0 1002.70 L749.5 1002.70 L750.0 1002.70 L750.5 1002.70 L751.0 1002.70 L751.5 1002.71 L752.0 1002.72 L752.5 1002.73 L753.0 1002.74 L753.5 1002.75 L754.0 1002.77 L754.5 1002.78 L755.0 1002.80 L755.5 1002.82 L756.0 1002.84 L756.5 1002.86 L757.0 1002.89 L757.5 1002.91 L758.0 1002.94 L758.5 1002.96 L759.0 1002.99 L759.5 1003.02 L760.0 1003.05 L760.5 1003.08 L761.0 1003.11 L761.5 1003.14 L762.0 1003.17 L762.5 1003.20 L763.0 1003.24 L763.5 1003.27 L764.0 1003.30" fill="none" stroke="#222" stroke-width="1.0" stroke-linejoin="round"/>
<path d="M24.0 1027.5 V1020.7 M98.0 1027.5 V1023.3 M172.0 1027.5 V1020.7 M246.0 1027.5 V1023.3 M320.0 1027.5 V1020.7 M394.0 1027.5 V1023.3 M468.0 1027.5 V1020.7 M542.0 1027.5 V1023.3 M616.0 1027.5 V1020.7 M690.0 1027.5 V1023.3 M764.0 1027.5 V1020.7" stroke="#222" stroke-width="1.4" fill="none"/>
<rect x="24.0" y="815.6" width="740.0" height="211.9" fill="none" stroke="#222" stroke-width="1.55"/>
<text transform="translate(24.0 1051.0) scale(1 1.050)" text-anchor="middle">5400</text>
<text transform="translate(172.0 1051.0) scale(1 1.050)" text-anchor="middle">5410</text>
<text transform="translate(320.0 1051.0) scale(1 1.050)" text-anchor="middle">5420</text>
<text transform="translate(468.0 1051.0) scale(1 1.050)" text-anchor="middle">5430</text>
<text transform="translate(616.0 1051.0) scale(1 1.050)" text-anchor="middle">5440</text>
<text transform="translate(764.0 1051.0) scale(1 1.050)" text-anchor="middle">5450</text>
<text transform="translate(394.4 1078.3) scale(1.03 1)" text-anchor="middle">m/z</text>
<text transform="translate(435.0 980.8) rotate(-90) scale(1 1.050)">5427.1</text>
<text transform="translate(463.1 907.2) rotate(-90) scale(1 1.050)">5429.1</text>
<text transform="translate(492.6 888.4) rotate(-90) scale(1 1.050)">5431.1</text>
<text transform="translate(522.5 943.6) rotate(-90) scale(1 1.050)">5433.1</text>
<text transform="translate(552.3 981.2) rotate(-90) scale(1 1.050)">5435.1</text>
</svg></body></html>
